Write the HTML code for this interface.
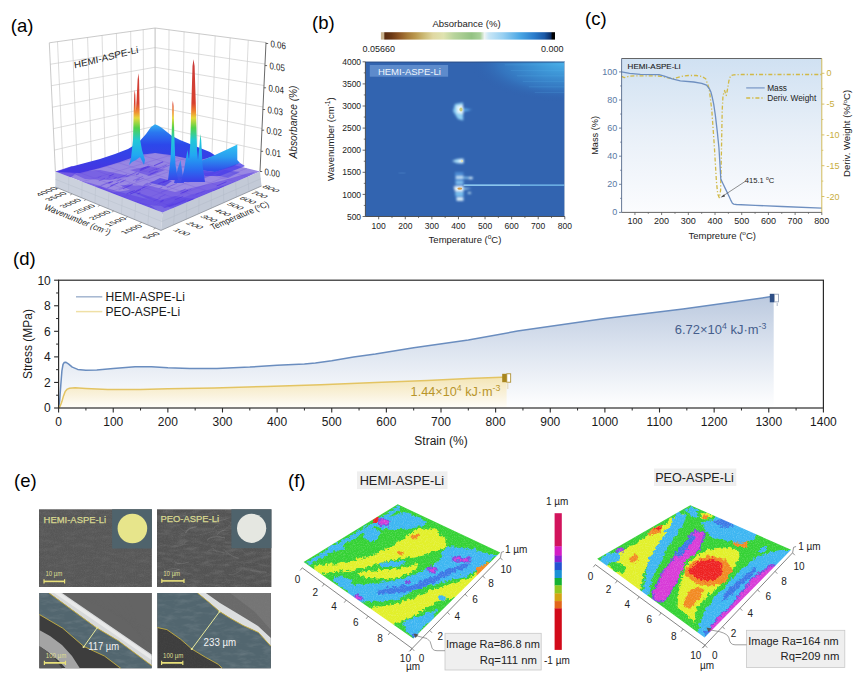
<!DOCTYPE html>
<html><head><meta charset="utf-8"><title>Figure</title>
<style>html,body{margin:0;padding:0;background:#fff;width:865px;height:693px;overflow:hidden}svg{display:block}</style>
</head><body>
<svg width="865" height="693" viewBox="0 0 865 693" font-family='"Liberation Sans", Arial, sans-serif'><defs><linearGradient id="flg" x1="0" y1="0" x2="0" y2="1"><stop offset="0" stop-color="#9484e2"/><stop offset="1" stop-color="#a08ee4"/></linearGradient><linearGradient id="hump" x1="0" y1="124" x2="0" y2="170" gradientUnits="userSpaceOnUse"><stop offset="0" stop-color="#34b4f2"/><stop offset="0.18" stop-color="#2a78f0"/><stop offset="0.45" stop-color="#2c48ea"/><stop offset="1" stop-color="#4436e2"/></linearGradient><linearGradient id="plat" x1="0" y1="144" x2="0" y2="170" gradientUnits="userSpaceOnUse"><stop offset="0" stop-color="#30c4f2"/><stop offset="0.5" stop-color="#2a9cf0"/><stop offset="1" stop-color="#3050ea"/></linearGradient><linearGradient id="jet" x1="0" y1="56" x2="0" y2="180" gradientUnits="userSpaceOnUse"><stop offset="0" stop-color="#c83c3c"/><stop offset="0.38" stop-color="#d8402e"/><stop offset="0.45" stop-color="#f08a32"/><stop offset="0.5" stop-color="#e6d83a"/><stop offset="0.58" stop-color="#52d24a"/><stop offset="0.68" stop-color="#22c8d8"/><stop offset="0.8" stop-color="#22a8f2"/><stop offset="0.92" stop-color="#2a6cf0"/><stop offset="1" stop-color="#3a44e8"/></linearGradient><linearGradient id="cbb" x1="0" x2="1" y1="0" y2="0"><stop offset="0" stop-color="#c9b38e"/><stop offset="0.02" stop-color="#c9b38e"/><stop offset="0.021" stop-color="#5a2c10"/><stop offset="0.06" stop-color="#6a3814"/><stop offset="0.1" stop-color="#8a5222"/><stop offset="0.15" stop-color="#a67a38"/><stop offset="0.2" stop-color="#bb9a50"/><stop offset="0.25" stop-color="#cdbc78"/><stop offset="0.3" stop-color="#e0d8a2"/><stop offset="0.36" stop-color="#dfe3b0"/><stop offset="0.42" stop-color="#b8d49c"/><stop offset="0.52" stop-color="#93c283"/><stop offset="0.57" stop-color="#a8d098"/><stop offset="0.595" stop-color="#eef4f4"/><stop offset="0.62" stop-color="#c8e6f6"/><stop offset="0.7" stop-color="#98d0f2"/><stop offset="0.8" stop-color="#4aa6e4"/><stop offset="0.88" stop-color="#2a7ccc"/><stop offset="0.94" stop-color="#1a58a6"/><stop offset="0.975" stop-color="#0c2e66"/><stop offset="0.986" stop-color="#000"/><stop offset="1" stop-color="#000"/></linearGradient><radialGradient id="hmtr" cx="564.8" cy="61.8" r="95" gradientUnits="userSpaceOnUse" gradientTransform="translate(564.8,61.8) scale(1,0.42) translate(-564.8,-61.8)"><stop offset="0" stop-color="#48b0e8"/><stop offset="0.35" stop-color="#3c92d4"/><stop offset="0.7" stop-color="#3474be"/><stop offset="1" stop-color="#3061ae" stop-opacity="0"/></radialGradient><filter id="bbl" x="-0.5" y="-0.5" width="2" height="2"><feGaussianBlur stdDeviation="0.9"/></filter><filter id="bbl2" x="-0.5" y="-0.5" width="2" height="2"><feGaussianBlur stdDeviation="0.5"/></filter><linearGradient id="cbg" x1="0" y1="0" x2="0" y2="1"><stop offset="0" stop-color="#d0e1f2"/><stop offset="0.5" stop-color="#e9f0f8"/><stop offset="1" stop-color="#fbfcfe"/></linearGradient><linearGradient id="hf" x1="0" y1="0" x2="0" y2="1" gradientUnits="userSpaceOnUse" gradientTransform="" ><stop offset="0" stop-color="#b7c7e0"/><stop offset="1" stop-color="#ffffff"/></linearGradient><linearGradient id="hf2" x1="0" y1="296.8" x2="0" y2="408.0" gradientUnits="userSpaceOnUse"><stop offset="0" stop-color="#bccadf"/><stop offset="0.45" stop-color="#dbe3ef"/><stop offset="1" stop-color="#ffffff"/></linearGradient><linearGradient id="hf3" x1="0" y1="362.0" x2="0" y2="408.0" gradientUnits="userSpaceOnUse"><stop offset="0" stop-color="#e2e9f4"/><stop offset="1" stop-color="#ffffff"/></linearGradient><linearGradient id="pf" x1="0" y1="378.6" x2="0" y2="408.0" gradientUnits="userSpaceOnUse"><stop offset="0" stop-color="#f4e6b8"/><stop offset="0.6" stop-color="#faf3df"/><stop offset="1" stop-color="#fffefa"/></linearGradient><filter id="semn" x="0" y="0" width="1" height="1"><feTurbulence type="fractalNoise" baseFrequency="0.9" numOctaves="2" seed="3" result="n"/><feColorMatrix type="matrix" values="0 0 0 0 0.5  0 0 0 0 0.5  0 0 0 0 0.5  0.9 0.9 0.9 0 -1.1" in="n" result="nn"/><feComposite in="nn" in2="SourceGraphic" operator="in"/></filter><filter id="semf" x="0" y="0" width="1" height="1"><feTurbulence type="fractalNoise" baseFrequency="0.08 0.25" numOctaves="3" seed="7" result="n"/><feColorMatrix type="matrix" values="0 0 0 0 0.75  0 0 0 0 0.75  0 0 0 0 0.75  0 0 -2.2 0 1.25" in="n" result="nn"/><feComposite in="nn" in2="SourceGraphic" operator="in"/></filter><filter id="afmn" x="0" y="0" width="1" height="1"><feTurbulence type="fractalNoise" baseFrequency="0.9" numOctaves="2" seed="11" result="n"/><feColorMatrix type="matrix" values="0 0 0 0 1  0 0 0 0 1  0 0 0 0 1  0 0 0 -2.2 1.25" in="n" result="nn"/><feComposite in="nn" in2="SourceGraphic" operator="in"/></filter><filter id="afmd" x="-0.05" y="-0.05" width="1.1" height="1.1"><feTurbulence type="turbulence" baseFrequency="0.18" numOctaves="2" seed="5" result="t"/><feDisplacementMap in="SourceGraphic" in2="t" scale="5" xChannelSelector="R" yChannelSelector="G"/></filter></defs><rect width="865" height="693" fill="#fff"/><text x="10.80" y="31.60" font-size="18.5" fill="#000">(a)</text>
<text x="312.00" y="29.40" font-size="18.5" fill="#000">(b)</text>
<text x="585.00" y="25.20" font-size="18.5" fill="#000">(c)</text>
<text x="13.00" y="264.60" font-size="18.5" fill="#000">(d)</text>
<text x="14.00" y="486.70" font-size="18.5" fill="#000">(e)</text>
<text x="288.00" y="486.70" font-size="18.5" fill="#000">(f)</text>
<polygon points="49.3,42.8 155.1,28.0 155.1,145.6 55.4,171.6" fill="#ffffff" />
<polygon points="155.1,28.0 266.0,42.5 260.0,171.5 155.1,145.6" fill="#ffffff" />
<line x1="57.51" y1="41.65" x2="63.14" y2="169.58" stroke="#cdcdcd" stroke-width="0.7" />
<line x1="72.39" y1="39.57" x2="77.16" y2="165.93" stroke="#cdcdcd" stroke-width="0.7" />
<line x1="87.58" y1="37.45" x2="91.47" y2="162.19" stroke="#cdcdcd" stroke-width="0.7" />
<line x1="102.05" y1="35.42" x2="105.10" y2="158.64" stroke="#cdcdcd" stroke-width="0.7" />
<line x1="116.41" y1="33.41" x2="118.64" y2="155.11" stroke="#cdcdcd" stroke-width="0.7" />
<line x1="130.68" y1="31.42" x2="132.08" y2="151.60" stroke="#cdcdcd" stroke-width="0.7" />
<line x1="143.20" y1="29.67" x2="143.88" y2="148.53" stroke="#cdcdcd" stroke-width="0.7" />
<line x1="50.32" y1="64.27" x2="155.10" y2="47.60" stroke="#cdcdcd" stroke-width="0.7" />
<line x1="51.33" y1="85.73" x2="155.10" y2="67.20" stroke="#cdcdcd" stroke-width="0.7" />
<line x1="52.35" y1="107.20" x2="155.10" y2="86.80" stroke="#cdcdcd" stroke-width="0.7" />
<line x1="53.37" y1="128.67" x2="155.10" y2="106.40" stroke="#cdcdcd" stroke-width="0.7" />
<line x1="54.38" y1="150.13" x2="155.10" y2="126.00" stroke="#cdcdcd" stroke-width="0.7" />
<line x1="169.04" y1="29.82" x2="168.28" y2="148.86" stroke="#cdcdcd" stroke-width="0.7" />
<line x1="184.08" y1="31.79" x2="182.51" y2="152.37" stroke="#cdcdcd" stroke-width="0.7" />
<line x1="199.12" y1="33.76" x2="196.74" y2="155.88" stroke="#cdcdcd" stroke-width="0.7" />
<line x1="215.16" y1="35.85" x2="211.91" y2="159.63" stroke="#cdcdcd" stroke-width="0.7" />
<line x1="230.20" y1="37.82" x2="226.14" y2="163.14" stroke="#cdcdcd" stroke-width="0.7" />
<line x1="248.25" y1="40.18" x2="243.21" y2="167.36" stroke="#cdcdcd" stroke-width="0.7" />
<line x1="155.10" y1="47.60" x2="265.00" y2="64.00" stroke="#cdcdcd" stroke-width="0.7" />
<line x1="155.10" y1="67.20" x2="264.00" y2="85.50" stroke="#cdcdcd" stroke-width="0.7" />
<line x1="155.10" y1="86.80" x2="263.00" y2="107.00" stroke="#cdcdcd" stroke-width="0.7" />
<line x1="155.10" y1="106.40" x2="262.00" y2="128.50" stroke="#cdcdcd" stroke-width="0.7" />
<line x1="155.10" y1="126.00" x2="261.00" y2="150.00" stroke="#cdcdcd" stroke-width="0.7" />
<polyline points="55.4,171.6 49.3,42.8 155.1,28.0 266.0,42.5" fill="none" stroke="#bdbdbd" stroke-width="0.8"/>
<line x1="155.10" y1="28.00" x2="155.10" y2="145.60" stroke="#b8b8b8" stroke-width="0.9" />
<line x1="266.00" y1="42.50" x2="260.00" y2="171.50" stroke="#444" stroke-width="0.8" />
<line x1="260.00" y1="171.50" x2="262.20" y2="171.50" stroke="#444" stroke-width="0.8" />
<text x="0.00" y="0.00" font-size="9.6" fill="#1a1a1a" textLength="15.4" lengthAdjust="spacingAndGlyphs" transform="translate(264.50,174.90) skewY(9)">0.00</text>
<line x1="260.94" y1="151.30" x2="263.14" y2="151.30" stroke="#444" stroke-width="0.8" />
<text x="0.00" y="0.00" font-size="9.6" fill="#1a1a1a" textLength="15.4" lengthAdjust="spacingAndGlyphs" transform="translate(265.44,154.70) skewY(9)">0.01</text>
<line x1="261.92" y1="130.20" x2="264.12" y2="130.20" stroke="#444" stroke-width="0.8" />
<text x="0.00" y="0.00" font-size="9.6" fill="#1a1a1a" textLength="15.4" lengthAdjust="spacingAndGlyphs" transform="translate(266.42,133.60) skewY(9)">0.02</text>
<line x1="262.88" y1="109.50" x2="265.08" y2="109.50" stroke="#444" stroke-width="0.8" />
<text x="0.00" y="0.00" font-size="9.6" fill="#1a1a1a" textLength="15.4" lengthAdjust="spacingAndGlyphs" transform="translate(267.38,112.90) skewY(9)">0.03</text>
<line x1="263.89" y1="87.80" x2="266.09" y2="87.80" stroke="#444" stroke-width="0.8" />
<text x="0.00" y="0.00" font-size="9.6" fill="#1a1a1a" textLength="15.4" lengthAdjust="spacingAndGlyphs" transform="translate(268.39,91.20) skewY(9)">0.04</text>
<line x1="264.93" y1="65.60" x2="267.13" y2="65.60" stroke="#444" stroke-width="0.8" />
<text x="0.00" y="0.00" font-size="9.6" fill="#1a1a1a" textLength="15.4" lengthAdjust="spacingAndGlyphs" transform="translate(269.43,69.00) skewY(9)">0.05</text>
<line x1="265.95" y1="43.50" x2="268.15" y2="43.50" stroke="#444" stroke-width="0.8" />
<text x="0.00" y="0.00" font-size="9.6" fill="#1a1a1a" textLength="15.4" lengthAdjust="spacingAndGlyphs" transform="translate(270.45,46.90) skewY(9)">0.06</text>
<text x="0.00" y="0.00" font-size="10.5" fill="#222" textLength="73" lengthAdjust="spacingAndGlyphs" text-anchor="middle" font-style="italic" transform="translate(296.5,122) rotate(-90)">Absorbance (%)</text>
<polygon points="55.4,171.6 155.1,145.6 260.0,171.5 162.5,212.6" fill="url(#flg)" />
<line x1="67.86" y1="168.35" x2="174.69" y2="207.46" stroke="#7860d8" stroke-width="0.6" opacity="0.55"/>
<line x1="80.32" y1="165.10" x2="186.88" y2="202.32" stroke="#7860d8" stroke-width="0.6" opacity="0.55"/>
<line x1="92.79" y1="161.85" x2="199.06" y2="197.19" stroke="#7860d8" stroke-width="0.6" opacity="0.55"/>
<line x1="105.25" y1="158.60" x2="211.25" y2="192.05" stroke="#7860d8" stroke-width="0.6" opacity="0.55"/>
<line x1="117.71" y1="155.35" x2="223.44" y2="186.91" stroke="#7860d8" stroke-width="0.6" opacity="0.55"/>
<line x1="130.17" y1="152.10" x2="235.62" y2="181.78" stroke="#7860d8" stroke-width="0.6" opacity="0.55"/>
<line x1="142.64" y1="148.85" x2="247.81" y2="176.64" stroke="#7860d8" stroke-width="0.6" opacity="0.55"/>
<line x1="68.79" y1="176.72" x2="168.21" y2="148.84" stroke="#7860d8" stroke-width="0.6" opacity="0.55"/>
<line x1="82.17" y1="181.85" x2="181.32" y2="152.07" stroke="#7860d8" stroke-width="0.6" opacity="0.55"/>
<line x1="95.56" y1="186.97" x2="194.44" y2="155.31" stroke="#7860d8" stroke-width="0.6" opacity="0.55"/>
<line x1="108.95" y1="192.10" x2="207.55" y2="158.55" stroke="#7860d8" stroke-width="0.6" opacity="0.55"/>
<line x1="122.34" y1="197.22" x2="220.66" y2="161.79" stroke="#7860d8" stroke-width="0.6" opacity="0.55"/>
<line x1="135.72" y1="202.35" x2="233.78" y2="165.03" stroke="#7860d8" stroke-width="0.6" opacity="0.55"/>
<line x1="149.11" y1="207.47" x2="246.89" y2="168.26" stroke="#7860d8" stroke-width="0.6" opacity="0.55"/>
<polygon points="55.4,171.6 72.0,166.0 80.0,170.0 70.0,178.0 60.0,176.0" fill="#6044e4" opacity="0.7"/>
<polygon points="80.0,190.0 100.0,186.0 130.0,200.0 150.0,205.0 160.0,212.0 140.0,208.0 110.0,200.0 85.0,195.0" fill="#6044e4" opacity="0.55"/>
<polygon points="95.0,195.0 130.0,190.0 160.0,200.0 175.0,196.0 200.0,200.0 180.0,208.0 161.3,214.5 130.0,206.0" fill="#4f40e4" opacity="0.5"/>
<polygon points="165.0,205.0 190.0,195.0 215.0,188.0 240.0,180.0 250.0,178.0 230.0,190.0 200.0,202.0 175.0,210.0" fill="#5a4be6" opacity="0.45"/>
<polygon points="150.0,183.0 160.0,178.0 172.0,181.0 165.0,186.0" fill="#4a3ce6" opacity="0.7"/>
<polygon points="100.0,160.0 120.0,154.0 128.0,158.0 110.0,165.0" fill="#4a3ce6" opacity="0.6"/>
<polygon points="215.0,175.0 225.0,170.0 240.0,172.0 228.0,178.0" fill="#4a3ce6" opacity="0.5"/>
<polygon points="60.0,178.0 90.0,183.0 120.0,192.0 150.0,200.0 161.0,206.0 140.0,204.0 110.0,196.0 80.0,188.0 58.0,183.0" fill="#5a3ee4" opacity="0.5"/>
<polygon points="70.0,172.0 100.0,170.0 130.0,176.0 110.0,180.0 85.0,179.0" fill="#5a3ee4" opacity="0.5"/>
<polygon points="120.0,185.0 150.0,186.0 175.0,192.0 200.0,186.0 225.0,180.0 245.0,174.0 255.0,172.0 240.0,182.0 210.0,194.0 180.0,204.0 165.0,208.0 150.0,200.0" fill="#5a3ee4" opacity="0.5"/>
<polygon points="175.0,178.0 200.0,174.0 225.0,170.0 200.0,180.0" fill="#5a3ee4" opacity="0.5"/>
<polygon points="130.0,170.0 150.0,166.0 165.0,170.0 150.0,176.0" fill="#5a3ee4" opacity="0.5"/>
<line x1="121.97" y1="187.10" x2="130.12" y2="183.64" stroke="#4a2ce0" stroke-width="0.5434617720005257" opacity="0.54"/>
<line x1="118.62" y1="189.99" x2="125.59" y2="187.04" stroke="#4a2ce0" stroke-width="0.5224973950651909" opacity="0.50"/>
<line x1="98.73" y1="180.90" x2="105.00" y2="178.24" stroke="#4a2ce0" stroke-width="0.9961112748032229" opacity="0.39"/>
<line x1="147.68" y1="175.54" x2="158.29" y2="171.04" stroke="#4a2ce0" stroke-width="0.8462617691704992" opacity="0.49"/>
<line x1="163.60" y1="207.72" x2="173.47" y2="203.54" stroke="#4a2ce0" stroke-width="0.6737655717990058" opacity="0.40"/>
<line x1="117.52" y1="178.32" x2="127.04" y2="174.28" stroke="#4a2ce0" stroke-width="0.6084358279543625" opacity="0.55"/>
<line x1="161.05" y1="192.11" x2="168.34" y2="189.02" stroke="#4a2ce0" stroke-width="0.5376733849839939" opacity="0.37"/>
<line x1="150.09" y1="174.08" x2="156.39" y2="171.41" stroke="#4a2ce0" stroke-width="0.6884883022260749" opacity="0.55"/>
<line x1="142.06" y1="188.10" x2="151.39" y2="184.14" stroke="#4a2ce0" stroke-width="0.9193966602377428" opacity="0.44"/>
<line x1="166.88" y1="187.48" x2="176.88" y2="183.24" stroke="#4a2ce0" stroke-width="0.9376671736635307" opacity="0.45"/>
<line x1="168.88" y1="206.53" x2="175.11" y2="203.89" stroke="#4a2ce0" stroke-width="0.9542845577391497" opacity="0.40"/>
<line x1="126.55" y1="193.87" x2="134.85" y2="190.35" stroke="#4a2ce0" stroke-width="0.958742519727688" opacity="0.55"/>
<line x1="174.69" y1="199.97" x2="183.21" y2="196.36" stroke="#4a2ce0" stroke-width="0.856621926263011" opacity="0.55"/>
<line x1="179.98" y1="178.36" x2="190.57" y2="173.87" stroke="#4a2ce0" stroke-width="0.7844590024517868" opacity="0.58"/>
<line x1="140.67" y1="169.52" x2="148.78" y2="166.08" stroke="#4a2ce0" stroke-width="1.0958575636799806" opacity="0.64"/>
<line x1="135.42" y1="181.70" x2="143.72" y2="178.18" stroke="#4a2ce0" stroke-width="0.5135377568333531" opacity="0.51"/>
<line x1="107.93" y1="183.24" x2="111.18" y2="181.86" stroke="#4a2ce0" stroke-width="0.9609397930835125" opacity="0.40"/>
<line x1="133.01" y1="180.54" x2="142.98" y2="176.31" stroke="#4a2ce0" stroke-width="0.5483487807200832" opacity="0.51"/>
<line x1="190.00" y1="180.24" x2="199.55" y2="176.20" stroke="#4a2ce0" stroke-width="1.0183906818191093" opacity="0.45"/>
<line x1="143.33" y1="185.94" x2="153.41" y2="181.67" stroke="#4a2ce0" stroke-width="1.0746387223783949" opacity="0.40"/>
<line x1="116.56" y1="181.39" x2="121.25" y2="179.40" stroke="#4a2ce0" stroke-width="0.790977638204814" opacity="0.56"/>
<line x1="107.14" y1="188.02" x2="113.37" y2="185.38" stroke="#4a2ce0" stroke-width="0.7215521437368353" opacity="0.55"/>
<line x1="206.80" y1="195.34" x2="213.83" y2="192.36" stroke="#4a2ce0" stroke-width="0.8705556496454767" opacity="0.59"/>
<line x1="153.99" y1="165.73" x2="163.20" y2="161.82" stroke="#4a2ce0" stroke-width="1.024707910480686" opacity="0.63"/>
<line x1="144.42" y1="184.55" x2="148.04" y2="183.02" stroke="#4a2ce0" stroke-width="0.8805737394114255" opacity="0.37"/>
<line x1="106.78" y1="178.68" x2="110.88" y2="176.94" stroke="#4a2ce0" stroke-width="0.7040321913394061" opacity="0.37"/>
<line x1="97.73" y1="177.80" x2="101.33" y2="176.28" stroke="#4a2ce0" stroke-width="0.7181659532207426" opacity="0.36"/>
<line x1="195.56" y1="194.47" x2="199.55" y2="192.78" stroke="#4a2ce0" stroke-width="0.6513546539342464" opacity="0.47"/>
<line x1="123.03" y1="188.77" x2="132.82" y2="184.62" stroke="#4a2ce0" stroke-width="1.0958616330228286" opacity="0.51"/>
<line x1="129.43" y1="192.87" x2="133.03" y2="191.34" stroke="#4a2ce0" stroke-width="0.7055815029458011" opacity="0.44"/>
<line x1="160.57" y1="201.40" x2="163.52" y2="200.15" stroke="#4a2ce0" stroke-width="1.0705913437248213" opacity="0.53"/>
<line x1="136.06" y1="174.87" x2="139.04" y2="173.61" stroke="#4a2ce0" stroke-width="0.8168656645629839" opacity="0.69"/>
<line x1="200.47" y1="192.66" x2="205.39" y2="190.57" stroke="#4a2ce0" stroke-width="0.7200198750567073" opacity="0.41"/>
<line x1="182.20" y1="193.01" x2="191.41" y2="189.11" stroke="#4a2ce0" stroke-width="0.6977989970286574" opacity="0.43"/>
<line x1="216.74" y1="185.91" x2="226.56" y2="181.75" stroke="#4a2ce0" stroke-width="0.9836471508714006" opacity="0.64"/>
<line x1="158.45" y1="197.66" x2="165.50" y2="194.67" stroke="#4a2ce0" stroke-width="0.713337526012975" opacity="0.36"/>
<line x1="108.76" y1="176.27" x2="113.66" y2="174.19" stroke="#4a2ce0" stroke-width="0.9155131650200741" opacity="0.68"/>
<line x1="186.08" y1="176.33" x2="197.02" y2="171.69" stroke="#4a2ce0" stroke-width="1.0730003787928" opacity="0.48"/>
<line x1="119.52" y1="182.75" x2="123.91" y2="180.89" stroke="#4a2ce0" stroke-width="0.6226240179657339" opacity="0.57"/>
<line x1="213.31" y1="191.09" x2="220.04" y2="188.24" stroke="#4a2ce0" stroke-width="0.8917868257046055" opacity="0.63"/>
<line x1="139.62" y1="170.96" x2="149.91" y2="166.60" stroke="#4a2ce0" stroke-width="0.9693817304588541" opacity="0.61"/>
<line x1="135.46" y1="191.02" x2="144.75" y2="187.08" stroke="#4a2ce0" stroke-width="0.699510319918766" opacity="0.63"/>
<line x1="187.63" y1="201.23" x2="193.71" y2="198.65" stroke="#4a2ce0" stroke-width="1.0680782038789358" opacity="0.60"/>
<line x1="108.77" y1="183.12" x2="112.78" y2="181.42" stroke="#4a2ce0" stroke-width="1.0429112574399437" opacity="0.63"/>
<line x1="155.80" y1="169.70" x2="166.68" y2="165.09" stroke="#4a2ce0" stroke-width="0.894360975641612" opacity="0.47"/>
<line x1="137.43" y1="193.91" x2="140.31" y2="192.69" stroke="#4a2ce0" stroke-width="1.0825341063426586" opacity="0.58"/>
<line x1="191.80" y1="178.67" x2="198.15" y2="175.98" stroke="#4a2ce0" stroke-width="1.0230457567936426" opacity="0.64"/>
<line x1="120.56" y1="182.02" x2="125.74" y2="179.83" stroke="#4a2ce0" stroke-width="0.6443236355350008" opacity="0.56"/>
<line x1="135.85" y1="180.37" x2="139.69" y2="178.74" stroke="#4a2ce0" stroke-width="1.046010233789334" opacity="0.47"/>
<line x1="162.22" y1="183.08" x2="172.47" y2="178.74" stroke="#4a2ce0" stroke-width="0.752376962425439" opacity="0.67"/>
<line x1="161.88" y1="185.27" x2="168.98" y2="182.26" stroke="#4a2ce0" stroke-width="0.511222920743252" opacity="0.50"/>
<line x1="101.16" y1="185.73" x2="110.54" y2="181.76" stroke="#4a2ce0" stroke-width="0.6034080273280693" opacity="0.52"/>
<line x1="180.36" y1="191.24" x2="185.82" y2="188.92" stroke="#4a2ce0" stroke-width="0.8110092276218221" opacity="0.54"/>
<line x1="153.36" y1="201.13" x2="160.76" y2="197.99" stroke="#4a2ce0" stroke-width="0.6490965926258541" opacity="0.45"/>
<line x1="180.49" y1="193.47" x2="187.90" y2="190.33" stroke="#4a2ce0" stroke-width="0.95599588555401" opacity="0.67"/>
<line x1="163.14" y1="182.12" x2="170.08" y2="179.18" stroke="#4a2ce0" stroke-width="0.8072968834611917" opacity="0.59"/>
<line x1="158.29" y1="183.83" x2="165.01" y2="180.98" stroke="#4a2ce0" stroke-width="1.0649006765231004" opacity="0.59"/>
<line x1="218.63" y1="188.56" x2="223.54" y2="186.48" stroke="#4a2ce0" stroke-width="0.835708283898629" opacity="0.68"/>
<line x1="159.71" y1="202.16" x2="163.47" y2="200.57" stroke="#4a2ce0" stroke-width="0.7652708529650263" opacity="0.38"/>
<line x1="110.30" y1="186.13" x2="118.61" y2="182.61" stroke="#4a2ce0" stroke-width="0.9703616103038932" opacity="0.66"/>
<line x1="148.72" y1="171.95" x2="156.94" y2="168.46" stroke="#4a2ce0" stroke-width="0.5857873987545423" opacity="0.66"/>
<line x1="175.02" y1="204.32" x2="185.67" y2="199.81" stroke="#4a2ce0" stroke-width="0.7389541248303632" opacity="0.52"/>
<line x1="219.47" y1="193.81" x2="223.56" y2="192.07" stroke="#4a2ce0" stroke-width="0.7589130907985834" opacity="0.53"/>
<line x1="126.24" y1="186.72" x2="131.64" y2="184.43" stroke="#4a2ce0" stroke-width="0.9332905010847115" opacity="0.36"/>
<line x1="159.44" y1="188.43" x2="162.35" y2="187.20" stroke="#4a2ce0" stroke-width="0.6988987334851944" opacity="0.57"/>
<line x1="130.05" y1="194.08" x2="140.97" y2="189.45" stroke="#4a2ce0" stroke-width="0.9730178336585485" opacity="0.69"/>
<line x1="113.55" y1="178.72" x2="116.64" y2="177.41" stroke="#4a2ce0" stroke-width="0.9673984580407354" opacity="0.44"/>
<line x1="126.34" y1="176.58" x2="136.65" y2="172.21" stroke="#4a2ce0" stroke-width="0.9913873878687691" opacity="0.44"/>
<line x1="162.51" y1="168.11" x2="169.99" y2="164.94" stroke="#4a2ce0" stroke-width="0.9202504679279708" opacity="0.38"/>
<line x1="139.50" y1="169.68" x2="145.78" y2="167.01" stroke="#4a2ce0" stroke-width="0.5434484568339143" opacity="0.68"/>
<polygon points="56.0,172.0 70.0,167.0 85.0,163.0 100.0,159.0 115.0,154.0 128.0,149.0 138.0,143.0 146.0,134.0 151.0,127.0 155.0,124.3 158.0,125.5 162.0,128.0 167.0,132.0 172.0,136.0 180.0,140.0 190.0,144.0 200.0,148.0 210.0,152.0 216.0,156.0 200.0,160.0 185.0,158.0 170.0,155.0 155.0,153.0 140.0,155.0 120.0,162.0 100.0,168.0 80.0,173.0" fill="url(#hump)" />
<polygon points="195.0,163.0 201.5,160.8 215.0,155.0 228.0,149.0 237.3,144.6 237.3,160.0 240.0,163.0 232.0,167.0 215.0,172.0 200.0,170.0" fill="url(#plat)" />
<polygon points="200.0,170.0 215.0,172.0 240.0,163.0 245.0,166.0 220.0,176.0 205.0,176.0" fill="#4b3ee8" opacity="0.8"/>
<polygon points="129.0,165.0 131.0,158.0 133.0,140.0 133.6,115.0 134.2,95.0 134.7,89.7 135.3,95.0 135.8,112.0 136.6,100.0 137.6,80.0 138.4,73.2 139.1,80.0 139.6,110.0 140.2,140.0 142.0,150.0 145.0,160.0 144.0,165.0 140.0,157.0 136.0,160.0 132.0,162.0" fill="url(#jet)" />
<polygon points="168.0,180.0 170.5,160.0 171.8,130.0 172.4,104.0 172.9,100.8 173.6,106.0 174.3,135.0 175.5,165.0 178.0,180.0" fill="url(#jet)" />
<polygon points="181.0,182.0 184.0,170.0 186.0,158.0 187.5,150.0 189.0,160.0 190.2,145.0 191.2,110.0 192.5,66.0 193.5,59.2 194.6,66.0 196.0,110.0 197.0,150.0 198.0,160.0 199.5,145.0 200.3,134.0 201.2,140.0 202.5,165.0 205.0,182.0" fill="url(#jet)" />
<polygon points="174.0,183.0 178.0,168.0 180.5,160.0 182.0,170.0 184.0,183.0" fill="url(#jet)" opacity="0.9"/>
<polygon points="55.4,171.6 162.5,212.6 161.0,230.4 55.4,187.0" fill="#cbd1dd" />
<polygon points="162.5,212.6 260.0,171.5 261.5,186.0 161.0,230.4" fill="#c3cad7" />
<line x1="68.79" y1="176.72" x2="68.60" y2="192.43" stroke="#b9c0cd" stroke-width="0.5" />
<line x1="174.69" y1="207.46" x2="173.56" y2="224.85" stroke="#b3bac8" stroke-width="0.5" />
<line x1="82.17" y1="181.85" x2="81.80" y2="197.85" stroke="#b9c0cd" stroke-width="0.5" />
<line x1="186.88" y1="202.32" x2="186.12" y2="219.30" stroke="#b3bac8" stroke-width="0.5" />
<line x1="95.56" y1="186.97" x2="95.00" y2="203.28" stroke="#b9c0cd" stroke-width="0.5" />
<line x1="199.06" y1="197.19" x2="198.69" y2="213.75" stroke="#b3bac8" stroke-width="0.5" />
<line x1="108.95" y1="192.10" x2="108.20" y2="208.70" stroke="#b9c0cd" stroke-width="0.5" />
<line x1="211.25" y1="192.05" x2="211.25" y2="208.20" stroke="#b3bac8" stroke-width="0.5" />
<line x1="122.34" y1="197.22" x2="121.40" y2="214.12" stroke="#b9c0cd" stroke-width="0.5" />
<line x1="223.44" y1="186.91" x2="223.81" y2="202.65" stroke="#b3bac8" stroke-width="0.5" />
<line x1="135.72" y1="202.35" x2="134.60" y2="219.55" stroke="#b9c0cd" stroke-width="0.5" />
<line x1="235.62" y1="181.78" x2="236.38" y2="197.10" stroke="#b3bac8" stroke-width="0.5" />
<line x1="149.11" y1="207.47" x2="147.80" y2="224.98" stroke="#b9c0cd" stroke-width="0.5" />
<line x1="247.81" y1="176.64" x2="248.94" y2="191.55" stroke="#b3bac8" stroke-width="0.5" />
<line x1="55.40" y1="179.30" x2="161.75" y2="221.50" stroke="#b9c0cd" stroke-width="0.5" />
<line x1="161.75" y1="221.50" x2="260.75" y2="178.75" stroke="#b3bac8" stroke-width="0.5" />
<polyline points="55.4,187.0 161.0,230.4 261.5,186.0" fill="none" stroke="#8a8f98" stroke-width="0.8"/>
<line x1="58.18" y1="188.14" x2="56.18" y2="189.34" stroke="#666" stroke-width="0.6" />
<line x1="72.07" y1="193.85" x2="70.07" y2="195.05" stroke="#666" stroke-width="0.6" />
<line x1="85.97" y1="199.56" x2="83.97" y2="200.76" stroke="#666" stroke-width="0.6" />
<line x1="99.86" y1="205.27" x2="97.86" y2="206.47" stroke="#666" stroke-width="0.6" />
<line x1="113.76" y1="210.98" x2="111.76" y2="212.18" stroke="#666" stroke-width="0.6" />
<line x1="127.65" y1="216.69" x2="125.65" y2="217.89" stroke="#666" stroke-width="0.6" />
<line x1="141.55" y1="222.41" x2="139.55" y2="223.61" stroke="#666" stroke-width="0.6" />
<line x1="155.44" y1="228.12" x2="153.44" y2="229.32" stroke="#666" stroke-width="0.6" />
<text x="0.00" y="3.20" font-size="9.2" fill="#222" text-anchor="middle" transform="matrix(0.920,-0.390,0.788,0.319,46.50,191.50)">4000</text>
<text x="0.00" y="3.20" font-size="9.2" fill="#222" text-anchor="middle" transform="matrix(0.920,-0.390,0.788,0.319,55.80,196.50)">3500</text>
<text x="0.00" y="3.20" font-size="9.2" fill="#222" text-anchor="middle" transform="matrix(0.920,-0.390,0.788,0.319,70.40,203.30)">3000</text>
<text x="0.00" y="3.20" font-size="9.2" fill="#222" text-anchor="middle" transform="matrix(0.920,-0.390,0.788,0.319,84.40,208.90)">2500</text>
<text x="0.00" y="3.20" font-size="9.2" fill="#222" text-anchor="middle" transform="matrix(0.920,-0.390,0.788,0.319,99.70,215.30)">2000</text>
<text x="0.00" y="3.20" font-size="9.2" fill="#222" text-anchor="middle" transform="matrix(0.920,-0.390,0.788,0.319,115.50,221.70)">1500</text>
<text x="0.00" y="3.20" font-size="9.2" fill="#222" text-anchor="middle" transform="matrix(0.920,-0.390,0.788,0.319,131.30,229.20)">1000</text>
<text x="0.00" y="3.20" font-size="9.2" fill="#222" text-anchor="middle" transform="matrix(0.920,-0.390,0.788,0.319,151.30,235.60)">500</text>
<text x="0.00" y="3.20" font-size="9.8" fill="#222" text-anchor="middle" transform="matrix(0.927,0.375,-0.495,0.747,77.60,219.80)" textLength="70" lengthAdjust="spacingAndGlyphs">Wavenumber (cm<tspan font-size="6" dy="-3">-1</tspan><tspan dy="3">)</tspan></text>
<text x="0.00" y="3.20" font-size="9.2" fill="#222" text-anchor="middle" transform="matrix(0.927,0.375,-0.782,0.332,181.80,232.10)">100</text>
<text x="0.00" y="3.20" font-size="9.2" fill="#222" text-anchor="middle" transform="matrix(0.927,0.375,-0.782,0.332,194.90,225.30)">200</text>
<text x="0.00" y="3.20" font-size="9.2" fill="#222" text-anchor="middle" transform="matrix(0.927,0.375,-0.782,0.332,209.20,218.50)">300</text>
<text x="0.00" y="3.20" font-size="9.2" fill="#222" text-anchor="middle" transform="matrix(0.927,0.375,-0.782,0.332,222.60,212.60)">400</text>
<text x="0.00" y="3.20" font-size="9.2" fill="#222" text-anchor="middle" transform="matrix(0.927,0.375,-0.782,0.332,235.50,206.00)">500</text>
<text x="0.00" y="3.20" font-size="9.2" fill="#222" text-anchor="middle" transform="matrix(0.927,0.375,-0.782,0.332,248.00,200.20)">600</text>
<text x="0.00" y="3.20" font-size="9.2" fill="#222" text-anchor="middle" transform="matrix(0.927,0.375,-0.782,0.332,259.50,194.50)">700</text>
<text x="0.00" y="3.20" font-size="9.2" fill="#222" text-anchor="middle" transform="matrix(0.927,0.375,-0.782,0.332,271.10,188.70)">800</text>
<text x="0.00" y="3.20" font-size="9.8" fill="#222" text-anchor="middle" transform="matrix(0.920,-0.390,0.495,0.747,239.70,215.60)" textLength="62" lengthAdjust="spacingAndGlyphs">Temperature (<tspan font-size="6" dy="-3">o</tspan><tspan dy="3">C)</tspan></text>
<text x="0.00" y="0.00" font-size="9.2" fill="#1a1a1a" textLength="66" lengthAdjust="spacingAndGlyphs" transform="translate(74.5,68.6) rotate(-14) skewX(-6)">HEMI-ASPE-Li</text>
<rect x="380.90" y="32.20" width="174.10" height="7.40" fill="url(#cbb)" />
<text x="466.50" y="27.30" font-size="9.5" fill="#222" text-anchor="middle">Absorbance (%)</text>
<text x="362.50" y="52.30" font-size="9" fill="#222">0.05660</text>
<text x="563.50" y="52.30" font-size="9" fill="#222" text-anchor="end">0.000</text>
<rect x="365.40" y="61.80" width="199.40" height="154.70" fill="#3264b0" />
<rect x="464.80" y="61.80" width="100.00" height="42.00" fill="url(#hmtr)" />
<line x1="504.80" y1="64.80" x2="564.80" y2="64.80" stroke="#5ab4ea" stroke-width="0.6" opacity="0.35"/>
<line x1="510.80" y1="70.30" x2="564.80" y2="70.30" stroke="#5ab4ea" stroke-width="0.6" opacity="0.35"/>
<line x1="516.80" y1="75.80" x2="564.80" y2="75.80" stroke="#5ab4ea" stroke-width="0.6" opacity="0.35"/>
<line x1="522.80" y1="81.30" x2="564.80" y2="81.30" stroke="#5ab4ea" stroke-width="0.6" opacity="0.35"/>
<line x1="528.80" y1="86.80" x2="564.80" y2="86.80" stroke="#5ab4ea" stroke-width="0.6" opacity="0.35"/>
<line x1="534.80" y1="92.30" x2="564.80" y2="92.30" stroke="#5ab4ea" stroke-width="0.6" opacity="0.35"/>
<rect x="369.80" y="65.00" width="78.30" height="11.70" fill="#5d8bcc" />
<text x="409.40" y="74.50" font-size="9.2" fill="#eef4fb" textLength="63" lengthAdjust="spacingAndGlyphs" text-anchor="middle">HEMI-ASPE-Li</text>
<line x1="463.50" y1="185.20" x2="564.80" y2="185.20" stroke="#7cc4f2" stroke-width="1.3" />
<line x1="463.50" y1="185.20" x2="520.00" y2="185.20" stroke="#a8daf6" stroke-width="0.8" />
<g filter="url(#bbl)">
<polygon points="455.0,104.0 463.0,102.5 463.2,120.4 458.0,119.0 453.0,111.0" fill="#8fd0f4" />
<polygon points="456.5,106.0 463.0,105.0 463.2,114.0 457.0,113.0" fill="#e4f4fb" />
<polygon points="463.0,108.0 472.0,109.8 463.0,112.0" fill="#5aa6e4" />
<polygon points="452.0,161.0 457.0,159.0 463.4,158.6 463.4,163.5 457.0,163.2" fill="#a8dcf6" />
<polygon points="459.0,159.5 463.4,159.2 463.4,162.8 459.0,162.5" fill="#e8f6fb" />
<polygon points="455.0,172.2 463.4,172.2 463.4,200.8 456.0,200.8" fill="#4f8fd6" />
<polygon points="455.9,176.4 463.4,176.2 463.4,178.6 456.0,178.4" fill="#d8f0fa" />
<polygon points="463.4,176.8 472.5,177.2 472.5,178.8 463.4,178.6" fill="#8ccaf2" />
<ellipse cx="470.8" cy="178" rx="2" ry="1.3" fill="#d8f0fa"/>
<polygon points="455.9,181.5 463.4,181.5 463.4,183.5 455.9,183.5" fill="#90cdf2" />
<polygon points="453.5,186.5 463.4,186.2 463.4,191.5 455.0,191.2" fill="#eaf6fb" />
<polygon points="463.4,187.8 471.7,188.4 463.4,189.8" fill="#a8daf4" />
<ellipse cx="469.4" cy="192.9" rx="1.8" ry="0.9" fill="#c8eaf8"/>
<polygon points="455.0,192.0 463.4,192.0 463.4,196.0 455.5,196.0" fill="#78bcec" />
<polygon points="456.7,197.6 463.4,197.6 463.4,200.8 457.0,200.8" fill="#e0f2fa" />
</g>
<g filter="url(#bbl2)">
<ellipse cx="461" cy="109.5" rx="1.6" ry="2" fill="#c8cc80"/>
<ellipse cx="462" cy="161.1" rx="1" ry="1" fill="#e8e0a8"/>
<ellipse cx="459.8" cy="188.6" rx="2.4" ry="1.2" fill="#d09a48"/>
</g>
<ellipse cx="402" cy="173" rx="4" ry="0.8" fill="#4a80c4" opacity="0.5"/>
<line x1="365.40" y1="62.10" x2="564.80" y2="62.10" stroke="#28487e" stroke-width="0.8" />
<line x1="564.50" y1="61.80" x2="564.50" y2="216.50" stroke="#b8c4d4" stroke-width="0.8" />
<line x1="365.40" y1="216.50" x2="564.80" y2="216.50" stroke="#444" stroke-width="0.9" />
<line x1="365.40" y1="61.80" x2="365.40" y2="216.50" stroke="#444" stroke-width="0.9" />
<line x1="378.69" y1="216.50" x2="378.69" y2="219.30" stroke="#444" stroke-width="0.8" />
<text x="378.69" y="228.50" font-size="8.5" fill="#222" text-anchor="middle">100</text>
<line x1="405.28" y1="216.50" x2="405.28" y2="219.30" stroke="#444" stroke-width="0.8" />
<text x="405.28" y="228.50" font-size="8.5" fill="#222" text-anchor="middle">200</text>
<line x1="431.87" y1="216.50" x2="431.87" y2="219.30" stroke="#444" stroke-width="0.8" />
<text x="431.87" y="228.50" font-size="8.5" fill="#222" text-anchor="middle">300</text>
<line x1="458.45" y1="216.50" x2="458.45" y2="219.30" stroke="#444" stroke-width="0.8" />
<text x="458.45" y="228.50" font-size="8.5" fill="#222" text-anchor="middle">400</text>
<line x1="485.04" y1="216.50" x2="485.04" y2="219.30" stroke="#444" stroke-width="0.8" />
<text x="485.04" y="228.50" font-size="8.5" fill="#222" text-anchor="middle">500</text>
<line x1="511.63" y1="216.50" x2="511.63" y2="219.30" stroke="#444" stroke-width="0.8" />
<text x="511.63" y="228.50" font-size="8.5" fill="#222" text-anchor="middle">600</text>
<line x1="538.21" y1="216.50" x2="538.21" y2="219.30" stroke="#444" stroke-width="0.8" />
<text x="538.21" y="228.50" font-size="8.5" fill="#222" text-anchor="middle">700</text>
<line x1="564.80" y1="216.50" x2="564.80" y2="219.30" stroke="#444" stroke-width="0.8" />
<text x="564.80" y="228.50" font-size="8.5" fill="#222" text-anchor="middle">800</text>
<line x1="391.99" y1="216.50" x2="391.99" y2="218.10" stroke="#444" stroke-width="0.7" />
<line x1="418.57" y1="216.50" x2="418.57" y2="218.10" stroke="#444" stroke-width="0.7" />
<line x1="445.16" y1="216.50" x2="445.16" y2="218.10" stroke="#444" stroke-width="0.7" />
<line x1="471.75" y1="216.50" x2="471.75" y2="218.10" stroke="#444" stroke-width="0.7" />
<line x1="498.33" y1="216.50" x2="498.33" y2="218.10" stroke="#444" stroke-width="0.7" />
<line x1="524.92" y1="216.50" x2="524.92" y2="218.10" stroke="#444" stroke-width="0.7" />
<line x1="551.51" y1="216.50" x2="551.51" y2="218.10" stroke="#444" stroke-width="0.7" />
<line x1="362.60" y1="216.50" x2="365.40" y2="216.50" stroke="#444" stroke-width="0.8" />
<text x="361.10" y="219.60" font-size="8.5" fill="#222" text-anchor="end">500</text>
<line x1="362.60" y1="194.40" x2="365.40" y2="194.40" stroke="#444" stroke-width="0.8" />
<text x="361.10" y="197.50" font-size="8.5" fill="#222" text-anchor="end">1000</text>
<line x1="362.60" y1="172.30" x2="365.40" y2="172.30" stroke="#444" stroke-width="0.8" />
<text x="361.10" y="175.40" font-size="8.5" fill="#222" text-anchor="end">1500</text>
<line x1="362.60" y1="150.20" x2="365.40" y2="150.20" stroke="#444" stroke-width="0.8" />
<text x="361.10" y="153.30" font-size="8.5" fill="#222" text-anchor="end">2000</text>
<line x1="362.60" y1="128.10" x2="365.40" y2="128.10" stroke="#444" stroke-width="0.8" />
<text x="361.10" y="131.20" font-size="8.5" fill="#222" text-anchor="end">2500</text>
<line x1="362.60" y1="106.00" x2="365.40" y2="106.00" stroke="#444" stroke-width="0.8" />
<text x="361.10" y="109.10" font-size="8.5" fill="#222" text-anchor="end">3000</text>
<line x1="362.60" y1="83.90" x2="365.40" y2="83.90" stroke="#444" stroke-width="0.8" />
<text x="361.10" y="87.00" font-size="8.5" fill="#222" text-anchor="end">3500</text>
<line x1="362.60" y1="61.80" x2="365.40" y2="61.80" stroke="#444" stroke-width="0.8" />
<text x="361.10" y="64.90" font-size="8.5" fill="#222" text-anchor="end">4000</text>
<line x1="363.80" y1="205.45" x2="365.40" y2="205.45" stroke="#444" stroke-width="0.7" />
<line x1="363.80" y1="183.35" x2="365.40" y2="183.35" stroke="#444" stroke-width="0.7" />
<line x1="363.80" y1="161.25" x2="365.40" y2="161.25" stroke="#444" stroke-width="0.7" />
<line x1="363.80" y1="139.15" x2="365.40" y2="139.15" stroke="#444" stroke-width="0.7" />
<line x1="363.80" y1="117.05" x2="365.40" y2="117.05" stroke="#444" stroke-width="0.7" />
<line x1="363.80" y1="94.95" x2="365.40" y2="94.95" stroke="#444" stroke-width="0.7" />
<line x1="363.80" y1="72.85" x2="365.40" y2="72.85" stroke="#444" stroke-width="0.7" />
<text x="465.00" y="242.60" font-size="9.5" fill="#222" text-anchor="middle">Temperature (<tspan font-size="6.5" dy="-3.2">o</tspan><tspan dy="3.2">C)</tspan></text>
<text x="0.00" y="0.00" font-size="9.5" fill="#222" text-anchor="middle" transform="translate(333.5,139.2) rotate(-90)">Wavenumber (cm<tspan font-size="6.5" dy="-3.2">-1</tspan><tspan dy="3.2">)</tspan></text>
<rect x="621.60" y="58.50" width="200.20" height="153.90" fill="url(#cbg)" />
<text x="627.60" y="68.60" font-size="7.3" fill="#1a1a1a" textLength="53" lengthAdjust="spacingAndGlyphs" stroke="#1a1a1a" stroke-width="0.1">HEMI-ASPE-Li</text>
<polyline points="621.6,76.4 624.3,77.6 629.6,76.1 640.3,75.8 656.3,75.8 661.6,76.4 667.0,77.6 672.3,78.8 676.3,77.9 683.0,76.1 688.3,75.5 696.3,75.5 701.7,76.4 705.7,78.8 709.2,88.7 711.8,110.3 714.2,144.1 716.4,181.1 717.7,194.0 719.3,197.7 720.6,190.3 721.4,153.4 722.2,110.3 723.0,95.5 724.6,90.5 726.2,95.5 727.3,90.5 728.9,80.7 730.5,75.8 733.7,74.8 741.7,74.5 821.8,74.5" fill="none" stroke="#d1b946" stroke-width="1.3" stroke-dasharray="4,2,1.2,2" stroke-linejoin="round"/>
<polyline points="621.6,71.9 629.6,73.3 640.3,74.3 659.0,74.6 664.3,76.1 672.3,78.9 680.3,80.9 693.7,82.0 701.7,83.3 706.5,85.2 709.4,88.8 711.0,92.3 712.1,96.6 713.7,104.2 715.3,114.9 717.2,130.9 718.9,147.3 719.8,161.8 720.8,179.0 723.0,183.7 725.7,189.4 728.4,195.0 730.5,199.6 732.4,203.3 733.7,204.1 736.4,204.5 755.1,205.4 781.8,206.5 821.8,208.2" fill="none" stroke="#6e8fc0" stroke-width="1.3" stroke-linejoin="round"/>
<line x1="745.50" y1="181.20" x2="722.50" y2="196.30" stroke="#444" stroke-width="0.6" />
<polygon points="720.5,197.6 724.2,194.3 725.0,196.4" fill="#444" />
<text x="744.80" y="182.60" font-size="7.6" fill="#222">415.1 <tspan font-size="5.2" dy="-2.6">o</tspan><tspan dy="2.6">C</tspan></text>
<line x1="746.20" y1="87.90" x2="764.70" y2="87.90" stroke="#7f9cc8" stroke-width="1.3" />
<line x1="746.20" y1="98.00" x2="764.70" y2="98.00" stroke="#d1b946" stroke-width="1.3" stroke-dasharray="4,2,1.2,2"/>
<text x="767.20" y="91.00" font-size="8.3" fill="#222">Mass</text>
<text x="767.20" y="101.20" font-size="8.3" fill="#222">Deriv. Weight</text>
<line x1="621.60" y1="58.50" x2="821.80" y2="58.50" stroke="#555" stroke-width="0.9" />
<line x1="621.60" y1="212.40" x2="821.80" y2="212.40" stroke="#555" stroke-width="0.9" />
<line x1="621.60" y1="58.50" x2="621.60" y2="212.40" stroke="#55698a" stroke-width="0.9" />
<line x1="821.80" y1="58.50" x2="821.80" y2="212.40" stroke="#cfb448" stroke-width="0.9" />
<line x1="634.95" y1="212.40" x2="634.95" y2="215.00" stroke="#555" stroke-width="0.8" />
<text x="634.95" y="223.60" font-size="9" fill="#222" text-anchor="middle">100</text>
<line x1="661.64" y1="212.40" x2="661.64" y2="215.00" stroke="#555" stroke-width="0.8" />
<text x="661.64" y="223.60" font-size="9" fill="#222" text-anchor="middle">200</text>
<line x1="688.33" y1="212.40" x2="688.33" y2="215.00" stroke="#555" stroke-width="0.8" />
<text x="688.33" y="223.60" font-size="9" fill="#222" text-anchor="middle">300</text>
<line x1="715.03" y1="212.40" x2="715.03" y2="215.00" stroke="#555" stroke-width="0.8" />
<text x="715.03" y="223.60" font-size="9" fill="#222" text-anchor="middle">400</text>
<line x1="741.72" y1="212.40" x2="741.72" y2="215.00" stroke="#555" stroke-width="0.8" />
<text x="741.72" y="223.60" font-size="9" fill="#222" text-anchor="middle">500</text>
<line x1="768.41" y1="212.40" x2="768.41" y2="215.00" stroke="#555" stroke-width="0.8" />
<text x="768.41" y="223.60" font-size="9" fill="#222" text-anchor="middle">600</text>
<line x1="795.11" y1="212.40" x2="795.11" y2="215.00" stroke="#555" stroke-width="0.8" />
<text x="795.11" y="223.60" font-size="9" fill="#222" text-anchor="middle">700</text>
<line x1="821.80" y1="212.40" x2="821.80" y2="215.00" stroke="#555" stroke-width="0.8" />
<text x="821.80" y="223.60" font-size="9" fill="#222" text-anchor="middle">800</text>
<line x1="648.29" y1="212.40" x2="648.29" y2="213.90" stroke="#555" stroke-width="0.7" />
<line x1="674.99" y1="212.40" x2="674.99" y2="213.90" stroke="#555" stroke-width="0.7" />
<line x1="701.68" y1="212.40" x2="701.68" y2="213.90" stroke="#555" stroke-width="0.7" />
<line x1="728.37" y1="212.40" x2="728.37" y2="213.90" stroke="#555" stroke-width="0.7" />
<line x1="755.07" y1="212.40" x2="755.07" y2="213.90" stroke="#555" stroke-width="0.7" />
<line x1="781.76" y1="212.40" x2="781.76" y2="213.90" stroke="#555" stroke-width="0.7" />
<line x1="808.45" y1="212.40" x2="808.45" y2="213.90" stroke="#555" stroke-width="0.7" />
<line x1="619.00" y1="212.40" x2="621.60" y2="212.40" stroke="#55698a" stroke-width="0.8" />
<text x="617.20" y="215.40" font-size="9" fill="#5a7aa4" text-anchor="end">0</text>
<line x1="619.00" y1="184.30" x2="621.60" y2="184.30" stroke="#55698a" stroke-width="0.8" />
<text x="617.20" y="187.30" font-size="9" fill="#5a7aa4" text-anchor="end">20</text>
<line x1="619.00" y1="156.20" x2="621.60" y2="156.20" stroke="#55698a" stroke-width="0.8" />
<text x="617.20" y="159.20" font-size="9" fill="#5a7aa4" text-anchor="end">40</text>
<line x1="619.00" y1="128.10" x2="621.60" y2="128.10" stroke="#55698a" stroke-width="0.8" />
<text x="617.20" y="131.10" font-size="9" fill="#5a7aa4" text-anchor="end">60</text>
<line x1="619.00" y1="100.00" x2="621.60" y2="100.00" stroke="#55698a" stroke-width="0.8" />
<text x="617.20" y="103.00" font-size="9" fill="#5a7aa4" text-anchor="end">80</text>
<line x1="619.00" y1="71.90" x2="621.60" y2="71.90" stroke="#55698a" stroke-width="0.8" />
<text x="617.20" y="74.90" font-size="9" fill="#5a7aa4" text-anchor="end">100</text>
<line x1="620.10" y1="198.35" x2="621.60" y2="198.35" stroke="#55698a" stroke-width="0.7" />
<line x1="620.10" y1="170.25" x2="621.60" y2="170.25" stroke="#55698a" stroke-width="0.7" />
<line x1="620.10" y1="142.15" x2="621.60" y2="142.15" stroke="#55698a" stroke-width="0.7" />
<line x1="620.10" y1="114.05" x2="621.60" y2="114.05" stroke="#55698a" stroke-width="0.7" />
<line x1="620.10" y1="85.95" x2="621.60" y2="85.95" stroke="#55698a" stroke-width="0.7" />
<line x1="821.80" y1="73.30" x2="824.40" y2="73.30" stroke="#cfb448" stroke-width="0.8" />
<text x="826.40" y="76.30" font-size="9" fill="#c9ad3c">0</text>
<line x1="821.80" y1="104.10" x2="824.40" y2="104.10" stroke="#cfb448" stroke-width="0.8" />
<text x="826.40" y="107.10" font-size="9" fill="#c9ad3c">-5</text>
<line x1="821.80" y1="134.90" x2="824.40" y2="134.90" stroke="#cfb448" stroke-width="0.8" />
<text x="826.40" y="137.90" font-size="9" fill="#c9ad3c">-10</text>
<line x1="821.80" y1="165.70" x2="824.40" y2="165.70" stroke="#cfb448" stroke-width="0.8" />
<text x="826.40" y="168.70" font-size="9" fill="#c9ad3c">-15</text>
<line x1="821.80" y1="196.50" x2="824.40" y2="196.50" stroke="#cfb448" stroke-width="0.8" />
<text x="826.40" y="199.50" font-size="9" fill="#c9ad3c">-20</text>
<line x1="821.80" y1="88.70" x2="823.30" y2="88.70" stroke="#cfb448" stroke-width="0.7" />
<line x1="821.80" y1="119.50" x2="823.30" y2="119.50" stroke="#cfb448" stroke-width="0.7" />
<line x1="821.80" y1="150.30" x2="823.30" y2="150.30" stroke="#cfb448" stroke-width="0.7" />
<line x1="821.80" y1="181.10" x2="823.30" y2="181.10" stroke="#cfb448" stroke-width="0.7" />
<text x="722.20" y="238.60" font-size="9.2" fill="#222" textLength="67.5" lengthAdjust="spacingAndGlyphs" text-anchor="middle">Tempreture (<tspan font-size="6.2" dy="-3.2">o</tspan><tspan dy="3.2">C)</tspan></text>
<text x="0.00" y="0.00" font-size="9.2" fill="#222" text-anchor="middle" transform="translate(597.5,135.4) rotate(-90)">Mass (%)</text>
<text x="0.00" y="0.00" font-size="9.2" fill="#222" textLength="87" lengthAdjust="spacingAndGlyphs" text-anchor="middle" transform="translate(850.3,133.4) rotate(-90)">Deriv. Weight (%/<tspan font-size="6.2" dy="-3.2">o</tspan><tspan dy="3.2">C)</tspan></text>
<polygon points="58.6,408.0 59.7,400.3 60.8,385.0 61.9,370.9 63.0,364.5 64.1,362.6 65.7,362.2 68.4,363.9 72.3,367.1 77.7,369.4 85.9,370.3 96.8,369.9 113.2,368.4 135.1,366.8 151.5,366.8 167.9,367.7 189.7,368.4 217.0,368.4 249.8,367.1 277.1,365.2 304.4,363.9 315.4,363.0 331.7,360.7 353.6,357.1 375.4,354.1 413.7,347.7 468.3,340.0 517.5,331.1 604.9,318.5 683.0,309.0 771.5,296.6 773.7,296.6 773.7,408.0 58.6,408.0" fill="url(#hf2)" />
<polygon points="58.6,408.0 60.2,406.1 61.9,401.6 63.5,395.9 65.2,391.4 67.3,389.1 69.5,388.2 75.0,387.8 85.9,388.4 107.8,389.5 140.5,389.5 167.9,388.8 214.3,387.9 266.2,386.5 320.8,384.7 375.4,382.6 427.3,380.4 468.3,378.6 501.6,377.2 506.6,377.1 506.6,408.0 58.6,408.0" fill="url(#pf)" />
<polyline points="58.6,408.0 59.7,400.3 60.8,385.0 61.9,370.9 63.0,364.5 64.1,362.6 65.7,362.2 68.4,363.9 72.3,367.1 77.7,369.4 85.9,370.3 96.8,369.9 113.2,368.4 135.1,366.8 151.5,366.8 167.9,367.7 189.7,368.4 217.0,368.4 249.8,367.1 277.1,365.2 304.4,363.9 315.4,363.0 331.7,360.7 353.6,357.1 375.4,354.1 413.7,347.7 468.3,340.0 517.5,331.1 604.9,318.5 683.0,309.0 771.5,296.6" fill="none" stroke="#6a8dbf" stroke-width="1.5" stroke-linejoin="round"/>
<polyline points="58.6,408.0 60.2,406.1 61.9,401.6 63.5,395.9 65.2,391.4 67.3,389.1 69.5,388.2 75.0,387.8 85.9,388.4 107.8,389.5 140.5,389.5 167.9,388.8 214.3,387.9 266.2,386.5 320.8,384.7 375.4,382.6 427.3,380.4 468.3,378.6 501.6,377.2 506.6,377.1" fill="none" stroke="#e3c463" stroke-width="1.5" stroke-linejoin="round"/>
<rect x="769.80" y="293.80" width="4.40" height="8.50" fill="#2e4f86" />
<rect x="774.60" y="294.20" width="3.80" height="7.70" fill="#ffffff" stroke="#8a98b0" stroke-width="0.8"/>
<line x1="777.20" y1="303.00" x2="777.20" y2="306.00" stroke="#8a98b0" stroke-width="0.7" />
<rect x="502.20" y="373.80" width="4.60" height="8.40" fill="#a8861e" />
<rect x="506.80" y="373.80" width="3.90" height="8.40" fill="#ffffff" stroke="#a8861e" stroke-width="0.8"/>
<line x1="507.80" y1="382.20" x2="507.80" y2="389.00" stroke="#d8c080" stroke-width="0.6" />
<text x="674.80" y="333.60" font-size="12.6" fill="#465e8c" textLength="91.5" lengthAdjust="spacingAndGlyphs">6.72×10<tspan font-size="8.5" dy="-5">4</tspan><tspan dy="5"> kJ·m</tspan><tspan font-size="8.5" dy="-5">-3</tspan></text>
<text x="410.60" y="396.30" font-size="12.3" fill="#b8952a" textLength="89.8" lengthAdjust="spacingAndGlyphs">1.44×10<tspan font-size="8.5" dy="-5">4</tspan><tspan dy="5"> kJ·m</tspan><tspan font-size="8.5" dy="-5">-3</tspan></text>
<line x1="76.00" y1="296.80" x2="102.30" y2="296.80" stroke="#a4b6d0" stroke-width="1.5" />
<line x1="76.00" y1="311.60" x2="102.30" y2="311.60" stroke="#efe0a6" stroke-width="1.5" />
<text x="105.50" y="301.30" font-size="12" fill="#1a1a1a">HEMI-ASPE-Li</text>
<text x="105.50" y="315.60" font-size="12" fill="#1a1a1a">PEO-ASPE-Li</text>
<rect x="58.6" y="280.2" width="764.8" height="127.8" fill="none" stroke="#2a2a2a" stroke-width="1.2"/>
<line x1="58.60" y1="408.00" x2="58.60" y2="412.50" stroke="#2a2a2a" stroke-width="1.1" />
<text x="58.60" y="425.70" font-size="12" fill="#1a1a1a" text-anchor="middle">0</text>
<line x1="113.23" y1="408.00" x2="113.23" y2="412.50" stroke="#2a2a2a" stroke-width="1.1" />
<text x="113.23" y="425.70" font-size="12" fill="#1a1a1a" text-anchor="middle">100</text>
<line x1="167.86" y1="408.00" x2="167.86" y2="412.50" stroke="#2a2a2a" stroke-width="1.1" />
<text x="167.86" y="425.70" font-size="12" fill="#1a1a1a" text-anchor="middle">200</text>
<line x1="222.49" y1="408.00" x2="222.49" y2="412.50" stroke="#2a2a2a" stroke-width="1.1" />
<text x="222.49" y="425.70" font-size="12" fill="#1a1a1a" text-anchor="middle">300</text>
<line x1="277.11" y1="408.00" x2="277.11" y2="412.50" stroke="#2a2a2a" stroke-width="1.1" />
<text x="277.11" y="425.70" font-size="12" fill="#1a1a1a" text-anchor="middle">400</text>
<line x1="331.74" y1="408.00" x2="331.74" y2="412.50" stroke="#2a2a2a" stroke-width="1.1" />
<text x="331.74" y="425.70" font-size="12" fill="#1a1a1a" text-anchor="middle">500</text>
<line x1="386.37" y1="408.00" x2="386.37" y2="412.50" stroke="#2a2a2a" stroke-width="1.1" />
<text x="386.37" y="425.70" font-size="12" fill="#1a1a1a" text-anchor="middle">600</text>
<line x1="441.00" y1="408.00" x2="441.00" y2="412.50" stroke="#2a2a2a" stroke-width="1.1" />
<text x="441.00" y="425.70" font-size="12" fill="#1a1a1a" text-anchor="middle">700</text>
<line x1="495.63" y1="408.00" x2="495.63" y2="412.50" stroke="#2a2a2a" stroke-width="1.1" />
<text x="495.63" y="425.70" font-size="12" fill="#1a1a1a" text-anchor="middle">800</text>
<line x1="550.26" y1="408.00" x2="550.26" y2="412.50" stroke="#2a2a2a" stroke-width="1.1" />
<text x="550.26" y="425.70" font-size="12" fill="#1a1a1a" text-anchor="middle">900</text>
<line x1="604.89" y1="408.00" x2="604.89" y2="412.50" stroke="#2a2a2a" stroke-width="1.1" />
<text x="604.89" y="425.70" font-size="12" fill="#1a1a1a" text-anchor="middle">1000</text>
<line x1="659.51" y1="408.00" x2="659.51" y2="412.50" stroke="#2a2a2a" stroke-width="1.1" />
<text x="659.51" y="425.70" font-size="12" fill="#1a1a1a" text-anchor="middle">1100</text>
<line x1="714.14" y1="408.00" x2="714.14" y2="412.50" stroke="#2a2a2a" stroke-width="1.1" />
<text x="714.14" y="425.70" font-size="12" fill="#1a1a1a" text-anchor="middle">1200</text>
<line x1="768.77" y1="408.00" x2="768.77" y2="412.50" stroke="#2a2a2a" stroke-width="1.1" />
<text x="768.77" y="425.70" font-size="12" fill="#1a1a1a" text-anchor="middle">1300</text>
<line x1="823.40" y1="408.00" x2="823.40" y2="412.50" stroke="#2a2a2a" stroke-width="1.1" />
<text x="823.40" y="425.70" font-size="12" fill="#1a1a1a" text-anchor="middle">1400</text>
<line x1="85.91" y1="408.00" x2="85.91" y2="410.50" stroke="#2a2a2a" stroke-width="1.0" />
<line x1="140.54" y1="408.00" x2="140.54" y2="410.50" stroke="#2a2a2a" stroke-width="1.0" />
<line x1="195.17" y1="408.00" x2="195.17" y2="410.50" stroke="#2a2a2a" stroke-width="1.0" />
<line x1="249.80" y1="408.00" x2="249.80" y2="410.50" stroke="#2a2a2a" stroke-width="1.0" />
<line x1="304.43" y1="408.00" x2="304.43" y2="410.50" stroke="#2a2a2a" stroke-width="1.0" />
<line x1="359.06" y1="408.00" x2="359.06" y2="410.50" stroke="#2a2a2a" stroke-width="1.0" />
<line x1="413.69" y1="408.00" x2="413.69" y2="410.50" stroke="#2a2a2a" stroke-width="1.0" />
<line x1="468.31" y1="408.00" x2="468.31" y2="410.50" stroke="#2a2a2a" stroke-width="1.0" />
<line x1="522.94" y1="408.00" x2="522.94" y2="410.50" stroke="#2a2a2a" stroke-width="1.0" />
<line x1="577.57" y1="408.00" x2="577.57" y2="410.50" stroke="#2a2a2a" stroke-width="1.0" />
<line x1="632.20" y1="408.00" x2="632.20" y2="410.50" stroke="#2a2a2a" stroke-width="1.0" />
<line x1="686.83" y1="408.00" x2="686.83" y2="410.50" stroke="#2a2a2a" stroke-width="1.0" />
<line x1="741.46" y1="408.00" x2="741.46" y2="410.50" stroke="#2a2a2a" stroke-width="1.0" />
<line x1="796.09" y1="408.00" x2="796.09" y2="410.50" stroke="#2a2a2a" stroke-width="1.0" />
<line x1="54.10" y1="408.00" x2="58.60" y2="408.00" stroke="#2a2a2a" stroke-width="1.1" />
<text x="50.80" y="412.30" font-size="12" fill="#1a1a1a" text-anchor="end">0</text>
<line x1="54.10" y1="382.44" x2="58.60" y2="382.44" stroke="#2a2a2a" stroke-width="1.1" />
<text x="50.80" y="386.74" font-size="12" fill="#1a1a1a" text-anchor="end">2</text>
<line x1="54.10" y1="356.88" x2="58.60" y2="356.88" stroke="#2a2a2a" stroke-width="1.1" />
<text x="50.80" y="361.18" font-size="12" fill="#1a1a1a" text-anchor="end">4</text>
<line x1="54.10" y1="331.32" x2="58.60" y2="331.32" stroke="#2a2a2a" stroke-width="1.1" />
<text x="50.80" y="335.62" font-size="12" fill="#1a1a1a" text-anchor="end">6</text>
<line x1="54.10" y1="305.76" x2="58.60" y2="305.76" stroke="#2a2a2a" stroke-width="1.1" />
<text x="50.80" y="310.06" font-size="12" fill="#1a1a1a" text-anchor="end">8</text>
<line x1="54.10" y1="280.20" x2="58.60" y2="280.20" stroke="#2a2a2a" stroke-width="1.1" />
<text x="50.80" y="284.50" font-size="12" fill="#1a1a1a" text-anchor="end">10</text>
<line x1="56.10" y1="395.22" x2="58.60" y2="395.22" stroke="#2a2a2a" stroke-width="1.0" />
<line x1="56.10" y1="369.66" x2="58.60" y2="369.66" stroke="#2a2a2a" stroke-width="1.0" />
<line x1="56.10" y1="344.10" x2="58.60" y2="344.10" stroke="#2a2a2a" stroke-width="1.0" />
<line x1="56.10" y1="318.54" x2="58.60" y2="318.54" stroke="#2a2a2a" stroke-width="1.0" />
<line x1="56.10" y1="292.98" x2="58.60" y2="292.98" stroke="#2a2a2a" stroke-width="1.0" />
<text x="441.00" y="445.10" font-size="12" fill="#1a1a1a" text-anchor="middle">Strain (%)</text>
<text x="0.00" y="0.00" font-size="12" fill="#1a1a1a" text-anchor="middle" transform="translate(32.0,344.1) rotate(-90)">Stress (MPa)</text>
<rect x="39.00" y="509.30" width="112.90" height="77.70" fill="#565656" />
<rect x="39.00" y="509.30" width="112.90" height="77.70" fill="#fff" filter="url(#semn)" opacity="0.12"/>
<rect x="39.00" y="509.30" width="112.90" height="77.70" fill="#fff" filter="url(#semf)" opacity="0.06"/>
<rect x="112.10" y="509.30" width="39.80" height="39.20" fill="#4f636c" />
<circle cx="132.4" cy="528.5" r="14.8" fill="#e7e58b"/>
<text x="43.60" y="523.00" font-size="9.8" fill="#d8d890" textLength="62.5" lengthAdjust="spacingAndGlyphs" stroke="#d8d890" stroke-width="0.25">HEMI-ASPE-Li</text>
<text x="45.40" y="576.10" font-size="7.0" fill="#dede90" textLength="17.0" lengthAdjust="spacingAndGlyphs">10 µm</text>
<line x1="44.00" y1="581.40" x2="64.60" y2="581.40" stroke="#e8e07a" stroke-width="1.6" />
<line x1="44.00" y1="579.20" x2="44.00" y2="583.60" stroke="#e8e07a" stroke-width="1.2" />
<line x1="64.60" y1="579.20" x2="64.60" y2="583.60" stroke="#e8e07a" stroke-width="1.2" />
<rect x="157.00" y="509.30" width="114.40" height="77.70" fill="#525252" />
<rect x="157.00" y="509.30" width="114.40" height="77.70" fill="#fff" filter="url(#semn)" opacity="0.12"/>
<rect x="157.00" y="509.30" width="114.40" height="77.70" fill="#fff" filter="url(#semf)" opacity="0.12"/>
<clipPath id="ctr"><rect x="157" y="509.3" width="114.4" height="77.7"/></clipPath><g clip-path="url(#ctr)">
<path d="M175.3,562.4 Q179.3,565.1 188.9,561.9" fill="none" stroke="#9a9a9a" stroke-width="1.08" opacity="0.25"/>
<path d="M213.1,529.2 Q216.9,523.6 219.1,526.7" fill="none" stroke="#9a9a9a" stroke-width="1.08" opacity="0.20"/>
<path d="M182.8,515.1 Q195.6,518.6 200.8,519.9" fill="none" stroke="#9a9a9a" stroke-width="0.62" opacity="0.22"/>
<path d="M212.2,520.5 Q217.5,522.3 229.7,517.8" fill="none" stroke="#9a9a9a" stroke-width="0.67" opacity="0.34"/>
<path d="M207.3,552.3 Q209.2,547.5 217.4,552.0" fill="none" stroke="#9a9a9a" stroke-width="1.12" opacity="0.20"/>
<path d="M243.6,527.2 Q255.0,533.8 261.2,535.1" fill="none" stroke="#9a9a9a" stroke-width="0.95" opacity="0.30"/>
<path d="M170.6,546.8 Q182.8,547.7 186.5,540.8" fill="none" stroke="#9a9a9a" stroke-width="0.85" opacity="0.22"/>
<path d="M207.1,540.2 Q211.3,535.0 225.0,537.9" fill="none" stroke="#9a9a9a" stroke-width="1.03" opacity="0.35"/>
<path d="M212.1,547.9 Q215.6,551.5 224.7,552.8" fill="none" stroke="#9a9a9a" stroke-width="0.93" opacity="0.27"/>
<path d="M177.1,524.4 Q180.6,529.7 187.2,533.0" fill="none" stroke="#9a9a9a" stroke-width="0.78" opacity="0.17"/>
<path d="M164.3,571.4 Q173.8,571.9 179.6,568.9" fill="none" stroke="#9a9a9a" stroke-width="1.14" opacity="0.34"/>
<path d="M202.2,584.2 Q214.8,585.0 219.7,586.0" fill="none" stroke="#9a9a9a" stroke-width="0.83" opacity="0.20"/>
<path d="M254.3,523.8 Q260.4,526.7 261.1,530.0" fill="none" stroke="#9a9a9a" stroke-width="1.10" opacity="0.16"/>
<path d="M185.6,533.2 Q186.8,528.2 196.7,526.6" fill="none" stroke="#9a9a9a" stroke-width="1.14" opacity="0.35"/>
<path d="M239.8,547.0 Q244.6,553.8 248.8,556.1" fill="none" stroke="#9a9a9a" stroke-width="0.62" opacity="0.19"/>
<path d="M250.0,570.1 Q257.6,571.9 266.6,572.1" fill="none" stroke="#9a9a9a" stroke-width="1.11" opacity="0.21"/>
<path d="M216.3,532.1 Q225.8,531.8 231.5,522.4" fill="none" stroke="#9a9a9a" stroke-width="0.61" opacity="0.27"/>
<path d="M228.5,574.2 Q234.0,576.3 241.5,569.3" fill="none" stroke="#9a9a9a" stroke-width="1.14" opacity="0.18"/>
<path d="M167.5,518.9 Q167.1,522.0 173.8,517.8" fill="none" stroke="#9a9a9a" stroke-width="0.99" opacity="0.18"/>
<path d="M216.8,535.7 Q219.4,529.7 228.7,530.1" fill="none" stroke="#9a9a9a" stroke-width="0.83" opacity="0.29"/>
<path d="M218.1,515.4 Q228.1,522.0 232.6,522.8" fill="none" stroke="#9a9a9a" stroke-width="0.60" opacity="0.24"/>
<path d="M164.0,567.8 Q165.6,571.8 172.2,572.0" fill="none" stroke="#9a9a9a" stroke-width="0.79" opacity="0.16"/>
<path d="M200.2,534.6 Q208.6,533.0 217.0,530.5" fill="none" stroke="#9a9a9a" stroke-width="1.17" opacity="0.17"/>
<path d="M223.7,549.1 Q229.2,555.8 238.5,558.4" fill="none" stroke="#9a9a9a" stroke-width="0.92" opacity="0.26"/>
<path d="M164.1,571.5 Q171.1,575.0 181.8,568.6" fill="none" stroke="#9a9a9a" stroke-width="0.66" opacity="0.17"/>
<path d="M165.1,571.4 Q173.9,566.1 180.3,570.4" fill="none" stroke="#9a9a9a" stroke-width="0.99" opacity="0.24"/>
</g>
<rect x="231.40" y="509.30" width="40.00" height="38.90" fill="#4f636c" />
<circle cx="251.6" cy="528.3" r="14.6" fill="#e5e7e1"/>
<text x="160.40" y="522.40" font-size="9.8" fill="#d8d890" textLength="58.6" lengthAdjust="spacingAndGlyphs" stroke="#d8d890" stroke-width="0.25">PEO-ASPE-Li</text>
<text x="163.20" y="575.60" font-size="7.0" fill="#dede90" textLength="17.0" lengthAdjust="spacingAndGlyphs">10 µm</text>
<line x1="161.80" y1="580.90" x2="184.00" y2="580.90" stroke="#e8e07a" stroke-width="1.6" />
<line x1="161.80" y1="578.70" x2="161.80" y2="583.10" stroke="#e8e07a" stroke-width="1.2" />
<line x1="184.00" y1="578.70" x2="184.00" y2="583.10" stroke="#e8e07a" stroke-width="1.2" />
<clipPath id="cbl"><rect x="39.2" y="592.9" width="112.6" height="75.6"/></clipPath>
<g clip-path="url(#cbl)">
<rect x="39.20" y="592.90" width="112.60" height="75.60" fill="#3d3d3d" />
<polygon points="39.2,630.0 50.0,636.0 62.0,645.0 72.0,656.0 80.0,668.5 66.0,668.5 58.0,660.0 48.0,652.0 39.2,646.0" fill="#a4a4a4" />
<polygon points="39.2,646.0 48.0,652.0 56.0,660.0 62.0,668.5 39.2,668.5" fill="#5a5a5a" />
<polygon points="62.0,592.9 151.8,592.9 151.8,654.6" fill="#646464" />
<line x1="70.00" y1="592.90" x2="151.80" y2="630.00" stroke="#666" stroke-width="0.6" opacity="0.6"/>
<line x1="77.00" y1="592.90" x2="151.80" y2="634.20" stroke="#666" stroke-width="0.6" opacity="0.6"/>
<line x1="84.00" y1="592.90" x2="151.80" y2="638.40" stroke="#666" stroke-width="0.6" opacity="0.6"/>
<line x1="91.00" y1="592.90" x2="151.80" y2="642.60" stroke="#666" stroke-width="0.6" opacity="0.6"/>
<line x1="98.00" y1="592.90" x2="151.80" y2="646.80" stroke="#666" stroke-width="0.6" opacity="0.6"/>
<line x1="105.00" y1="592.90" x2="151.80" y2="651.00" stroke="#666" stroke-width="0.6" opacity="0.6"/>
<line x1="112.00" y1="592.90" x2="151.80" y2="655.20" stroke="#666" stroke-width="0.6" opacity="0.6"/>
<line x1="119.00" y1="592.90" x2="151.80" y2="659.40" stroke="#666" stroke-width="0.6" opacity="0.6"/>
<line x1="126.00" y1="592.90" x2="151.80" y2="663.60" stroke="#666" stroke-width="0.6" opacity="0.6"/>
<polygon points="48.9,592.9 62.0,592.9 151.8,654.6 151.8,665.7 118.2,640.7 96.0,627.5 64.8,604.6" fill="#d7d9da" />
<polygon points="54.0,592.9 60.0,592.9 151.8,656.0 151.8,660.0" fill="#eeeeee" opacity="0.8"/>
<polygon points="39.2,592.9 48.9,592.9 64.8,604.6 96.0,627.5 118.2,640.7 151.8,665.7 151.8,668.5 121.0,668.5 104.4,656.0 83.6,646.3 62.7,628.2 39.2,614.4" fill="#52666f" />
<polygon points="39.2,592.9 48.9,592.9 64.8,604.6 96.0,627.5 118.2,640.7 151.8,665.7 151.8,668.5 121.0,668.5 104.4,656.0 83.6,646.3 62.7,628.2 39.2,614.4" fill="#fff" filter="url(#semf)" opacity="0.12"/>
<polyline points="48.9,592.9 64.8,604.6 96.0,627.5 118.2,640.7 151.8,665.7" fill="none" stroke="#c8b040" stroke-width="0.9"/>
<polyline points="39.2,614.4 62.7,628.2 83.6,646.3 104.4,656.0 121.0,668.5" fill="none" stroke="#c8b040" stroke-width="0.9"/>
<line x1="83.60" y1="647.00" x2="97.40" y2="627.50" stroke="#e8e89a" stroke-width="1.0" />
<circle cx="83.6" cy="647" r="1.1" fill="#e8e89a"/><circle cx="97.4" cy="627.5" r="1.1" fill="#e8e89a"/>
<text x="88.20" y="649.70" font-size="10.2" fill="#f4f4f4" textLength="31.0" lengthAdjust="spacingAndGlyphs">117 µm</text>
<text x="45.80" y="657.60" font-size="7.0" fill="#dede90" textLength="20.4" lengthAdjust="spacingAndGlyphs">100 µm</text>
<line x1="44.40" y1="662.90" x2="65.50" y2="662.90" stroke="#e8e07a" stroke-width="1.6" />
<line x1="44.40" y1="660.70" x2="44.40" y2="665.10" stroke="#e8e07a" stroke-width="1.2" />
<line x1="65.50" y1="660.70" x2="65.50" y2="665.10" stroke="#e8e07a" stroke-width="1.2" />
</g>
<clipPath id="cbr"><rect x="157.2" y="592.9" width="113.7" height="75.6"/></clipPath>
<g clip-path="url(#cbr)">
<rect x="157.20" y="592.90" width="113.70" height="75.60" fill="#3e3e3e" />
<polygon points="197.4,592.9 270.9,592.9 270.9,646.3" fill="#6a6a6a" />
<polygon points="230.0,592.9 270.9,592.9 270.9,630.0 255.0,612.0" fill="#7a7a7a" opacity="0.7"/>
<rect x="157.20" y="592.90" width="113.70" height="75.60" fill="#fff" filter="url(#semn)" opacity="0.06"/>
<polygon points="197.4,592.9 205.7,592.9 220.0,603.0 240.0,615.0 258.0,626.0 270.9,638.0 270.9,646.3 258.4,632.4 243.2,625.5 230.7,618.5 219.6,611.6 208.5,601.9" fill="#dcdedf" />
<polygon points="157.2,592.9 197.4,592.9 208.5,601.9 219.6,611.6 230.7,618.5 243.2,625.5 258.4,632.4 270.9,646.3 270.9,668.5 222.4,668.5 218.2,664.3 205.7,657.4 191.8,649.0 180.7,639.3 166.9,629.6 157.2,627.5" fill="#52666f" />
<polygon points="157.2,592.9 197.4,592.9 208.5,601.9 219.6,611.6 230.7,618.5 243.2,625.5 258.4,632.4 270.9,646.3 270.9,668.5 222.4,668.5 218.2,664.3 205.7,657.4 191.8,649.0 180.7,639.3 166.9,629.6 157.2,627.5" fill="#fff" filter="url(#semf)" opacity="0.12"/>
<polyline points="197.4,592.9 208.5,601.9 219.6,611.6 230.7,618.5 243.2,625.5 258.4,632.4 270.9,646.3" fill="none" stroke="#c8b040" stroke-width="0.9"/>
<polyline points="157.2,627.5 166.9,629.6 180.7,639.3 191.8,649.0 205.7,657.4 218.2,664.3 222.4,668.5" fill="none" stroke="#c8b040" stroke-width="0.9"/>
<line x1="191.80" y1="649.00" x2="219.60" y2="611.60" stroke="#e8e89a" stroke-width="1.0" />
<circle cx="191.8" cy="649" r="1.1" fill="#e8e89a"/><circle cx="219.6" cy="611.6" r="1.1" fill="#e8e89a"/>
<text x="203.60" y="645.50" font-size="10.2" fill="#f4f4f4" textLength="32.6" lengthAdjust="spacingAndGlyphs">233 µm</text>
<text x="163.00" y="657.60" font-size="7.0" fill="#dede90" textLength="20.4" lengthAdjust="spacingAndGlyphs">100 µm</text>
<line x1="161.60" y1="662.90" x2="182.80" y2="662.90" stroke="#e8e07a" stroke-width="1.6" />
<line x1="161.60" y1="660.70" x2="161.60" y2="665.10" stroke="#e8e07a" stroke-width="1.2" />
<line x1="182.80" y1="660.70" x2="182.80" y2="665.10" stroke="#e8e07a" stroke-width="1.2" />
</g>
<clipPath id="afm1"><polygon points="397.7,504.3 500.2,552.6 413.3,638.6 303.6,562.1"/></clipPath>
<g clip-path="url(#afm1)"><g filter="url(#afmd)">
<polygon points="290.0,495.0 510.0,495.0 510.0,645.0 290.0,645.0" fill="#36d236" />
<polygon points="303.6,562.1 320.0,552.0 340.0,540.0 360.0,528.0 380.0,516.0 397.7,504.3 399.0,508.0 384.0,518.0 365.0,530.0 345.0,542.0 325.0,554.0 310.0,563.0" fill="#3cb6f2" />
<polygon points="330.0,546.0 335.0,542.0 342.0,542.5 344.0,547.0 338.0,550.0 332.0,549.0" fill="#3cb6f2" />
<polygon points="362.0,532.0 368.0,527.0 376.0,527.0 379.0,531.0 376.0,538.0 370.0,541.0 364.0,538.0" fill="#3cb6f2" />
<polygon points="374.0,523.0 386.0,516.0 398.0,512.0 408.0,513.0 418.0,515.0 425.0,520.0 421.0,526.0 410.0,528.0 400.0,527.0 390.0,529.0 380.0,528.0" fill="#3cb6f2" />
<polygon points="312.0,563.0 335.0,562.0 347.4,559.2 366.4,554.5 383.0,547.4 399.5,537.9 413.0,527.0 432.0,526.0 447.0,538.0 446.0,546.0 432.7,552.1 413.7,556.9 394.8,559.2 378.2,564.0 361.6,568.7 347.4,571.1 336.0,572.0 322.0,574.0 312.0,570.0" fill="#e2f02c" stroke="#36d236" stroke-width="2.6" stroke-linejoin="round"/>
<polygon points="355.0,570.0 375.0,568.0 398.0,566.0 410.0,563.0 420.0,561.0 415.0,570.0 400.0,577.0 385.0,579.6 365.0,578.0 356.0,575.0" fill="#e2f02c" stroke="#36d236" stroke-width="2.6" stroke-linejoin="round"/>
<polygon points="379.0,562.0 405.0,559.0 404.0,564.0 380.0,566.0" fill="#3cb6f2" />
<polygon points="333.0,575.0 345.0,576.0 354.0,584.0 365.0,583.0 378.6,580.8 398.0,578.4 415.0,572.3 430.0,566.0 440.0,556.0 446.0,545.0 460.0,546.0 475.0,549.0 490.0,553.0 499.0,553.0 492.2,558.7 475.8,569.7 464.8,576.5 444.3,580.6 423.7,586.1 410.0,590.2 398.0,597.8 378.6,600.2 360.3,601.4 352.0,596.0 345.0,590.0 338.0,584.0 332.0,580.0" fill="#3cb6f2" />
<polygon points="375.0,589.0 390.0,586.0 405.0,585.0 418.0,581.0 432.0,575.0 446.0,568.0 460.0,563.0 470.0,562.0 466.0,566.0 450.0,572.0 436.0,580.0 420.0,587.0 402.0,591.0 388.0,592.0 377.0,593.0" fill="#3a78e6" />
<polygon points="368.0,606.0 380.0,603.0 398.0,601.0 410.0,596.0 423.7,590.0 444.3,583.0 464.8,577.0 475.8,570.0 492.2,559.0 499.1,553.2 500.0,556.0 458.6,596.0 444.3,599.8 430.6,605.3 420.0,612.0 405.0,620.0 388.0,626.0 378.0,624.0 370.0,618.0" fill="#e2f02c" stroke="#36d236" stroke-width="2.6" stroke-linejoin="round"/>
<polygon points="474.4,566.0 485.0,562.8 492.2,560.0 490.0,568.0 482.0,574.0 476.0,576.0" fill="#f28a24" />
<polygon points="409.7,534.0 415.0,532.8 419.4,535.0 415.0,537.6 410.0,537.0" fill="#f28a24" />
<polygon points="396.0,550.0 401.0,549.8 402.0,553.4 397.0,553.0" fill="#f28a24" />
<polygon points="402.8,620.0 420.0,614.0 437.4,608.0 430.0,620.0 420.0,628.0 414.0,636.8 405.0,632.0" fill="#3cb6f2" />
<polygon points="437.4,594.3 444.3,594.5 443.0,599.8 438.0,599.0" fill="#3cb6f2" />
<polygon points="451.0,556.0 458.0,555.2 462.0,557.0 469.2,556.0 468.0,560.7 458.0,560.0 452.0,560.0" fill="#d83ad8" stroke="#7a50e0" stroke-width="1.6" stroke-linejoin="round"/>
<polygon points="426.7,567.0 432.0,566.0 435.2,569.0 432.0,571.6 428.0,571.0" fill="#d83ad8" stroke="#7a50e0" stroke-width="1.6" stroke-linejoin="round"/>
<polygon points="353.0,594.0 358.0,594.5 361.6,597.0 357.0,599.0 354.0,598.0" fill="#d83ad8" stroke="#7a50e0" stroke-width="1.6" stroke-linejoin="round"/>
<polygon points="404.0,580.0 409.0,579.6 408.0,581.4 404.0,581.4" fill="#d83ad8" stroke="#7a50e0" stroke-width="1.6" stroke-linejoin="round"/>
<polygon points="377.0,520.0 382.0,517.5 388.0,519.0 387.0,524.0 380.0,524.5" fill="#d83ad8" stroke="#7a50e0" stroke-width="1.6" stroke-linejoin="round"/>
<polygon points="371.0,520.0 375.0,516.0 379.0,516.0 378.0,519.0 374.0,522.0" fill="#ee2424" />
<polygon points="410.0,633.0 414.0,631.0 416.0,636.0 412.0,637.0" fill="#3a78e6" />
</g>
<polygon points="397.7,504.3 500.2,552.6 413.3,638.6 303.6,562.1" fill="#fff" filter="url(#afmn)" opacity="0.22"/>
</g>
<clipPath id="afm2"><polygon points="690.3,505.2 791.1,549.8 704.6,637.4 597.2,558.8"/></clipPath>
<g clip-path="url(#afm2)"><g filter="url(#afmd)">
<polygon points="585.0,495.0 800.0,495.0 800.0,645.0 585.0,645.0" fill="#36d236" />
<polygon points="607.0,556.0 620.0,548.0 635.0,540.0 648.0,532.0 660.0,524.0 672.0,515.0 682.0,510.0 685.0,515.0 676.0,524.0 668.0,533.0 660.0,544.0 652.0,556.0 646.0,568.0 642.0,580.0 640.0,592.0 632.0,588.0 622.0,582.0 612.0,575.0 604.0,566.0" fill="#e2f02c" stroke="#36d236" stroke-width="2.6" stroke-linejoin="round"/>
<polygon points="597.4,560.0 603.0,555.0 612.0,551.0 620.0,551.0 618.0,558.0 610.0,563.0 604.0,566.0" fill="#3cb6f2" />
<polygon points="645.0,533.0 650.0,528.0 656.0,525.0 662.0,524.0 660.0,530.0 652.0,534.0" fill="#f28a24" />
<polygon points="654.0,527.0 661.0,524.3 660.0,528.0 655.0,529.0" fill="#ee2424" />
<polygon points="628.0,557.0 632.0,553.4 636.3,555.0 635.0,560.7 629.0,560.0" fill="#f28a24" />
<polygon points="607.0,562.0 615.0,560.0 625.0,566.0 622.0,572.0 612.0,570.0" fill="#36d236" />
<polygon points="615.0,549.0 619.0,546.5 623.0,547.0 621.0,550.0 617.0,550.5" fill="#d83ad8" stroke="#7a50e0" stroke-width="1.6" stroke-linejoin="round"/>
<polygon points="676.0,512.0 686.0,513.0 681.0,525.0 672.0,538.0 664.0,551.0 658.0,563.0 652.0,576.0 648.0,590.0 646.0,598.0 640.0,596.0 640.0,585.0 643.0,572.0 648.0,558.0 655.0,546.0 663.0,534.0 670.0,522.0" fill="#3cb6f2" />
<polygon points="640.0,585.0 643.0,572.0 646.0,566.0 644.0,580.0 641.0,594.0" fill="#36d236" />
<polygon points="693.9,528.4 703.4,532.0 698.6,547.4 682.0,571.1 670.2,590.0 663.1,599.5 652.4,599.5 651.2,594.8 660.7,571.1 679.7,547.4" fill="#d83ad8" stroke="#7a50e0" stroke-width="1.6" stroke-linejoin="round"/>
<polygon points="684.0,540.0 692.0,533.0 694.0,537.0 686.0,548.0 678.0,556.0 674.0,552.0" fill="#3a78e6" />
<polygon points="663.1,599.5 670.2,590.0 682.0,571.1 686.0,566.0 684.0,580.0 678.0,595.0 672.0,610.0 666.0,612.0" fill="#36d236" />
<polygon points="686.0,560.0 700.0,550.0 712.0,546.0 725.0,545.0 738.0,548.0 740.0,555.0 735.0,565.0 728.0,575.0 718.0,586.0 705.0,598.0 697.0,608.0 694.0,620.0 698.0,628.0 692.0,622.0 684.0,614.0 674.0,606.0 676.0,590.0 680.0,575.0" fill="#e2f02c" stroke="#36d236" stroke-width="2.6" stroke-linejoin="round"/>
<polygon points="682.0,571.1 691.5,559.2 708.1,554.5 724.7,559.2 731.8,568.7 724.7,580.6 710.5,585.3 696.3,582.9" fill="#f28a24" />
<polygon points="686.8,568.7 696.3,560.4 710.5,556.9 720.0,561.6 721.1,571.1 715.2,578.2 703.4,580.6 693.9,575.8" fill="#ee2424" />
<polygon points="682.0,601.9 686.8,590.0 696.3,585.3 703.4,587.7 698.6,597.2 689.2,606.6 683.2,606.6" fill="#f28a24" />
<polygon points="730.0,538.0 740.0,536.4 747.0,538.0 745.0,546.0 736.0,546.0 731.0,543.0" fill="#f28a24" />
<polygon points="700.0,518.0 712.0,514.0 728.0,516.0 745.0,522.0 758.0,530.0 752.0,538.0 740.0,542.0 725.0,540.0 712.0,536.0 704.0,530.0" fill="#3cb6f2" />
<polygon points="712.0,519.0 725.0,518.0 735.0,523.0 728.0,527.0 716.0,525.0" fill="#3a78e6" />
<polygon points="684.0,509.0 690.3,505.2 697.3,509.0 697.0,515.8 690.0,515.0" fill="#3cb6f2" />
<polygon points="697.0,512.0 703.0,509.7 711.8,513.0 711.8,518.0 700.0,519.0" fill="#e2f02c" stroke="#36d236" stroke-width="2.6" stroke-linejoin="round"/>
<polygon points="701.0,515.0 704.0,513.0 707.0,514.0 706.0,517.0 702.0,517.0" fill="#f28a24" />
<polygon points="780.0,549.0 768.0,551.0 754.0,557.0 741.0,567.0 730.0,578.2 720.0,589.0 711.0,599.5 704.0,609.0 699.5,618.5 696.0,632.7 705.0,640.0 795.0,549.0" fill="#3cb6f2" />
<polygon points="724.0,590.0 736.0,580.0 748.0,570.0 756.0,565.0 752.0,573.0 741.0,583.0 730.0,594.0 720.0,602.0" fill="#3a78e6" />
<polygon points="770.0,563.0 758.0,572.0 750.0,578.2 742.0,589.0 734.0,599.5 725.0,609.0 715.0,618.5 707.0,629.0 716.0,634.0 745.0,604.0 768.0,580.0 778.0,568.0" fill="#d83ad8" stroke="#7a50e0" stroke-width="1.6" stroke-linejoin="round"/>
<polygon points="758.0,546.0 765.0,546.0 765.0,551.0 758.0,551.0" fill="#3cb6f2" />
<polygon points="775.0,553.0 786.0,551.0 784.0,560.0 776.0,562.0" fill="#3cb6f2" />
<polygon points="702.0,630.0 707.0,628.0 706.0,637.0" fill="#3a78e6" />
</g>
<polygon points="690.3,505.2 791.1,549.8 704.6,637.4 597.2,558.8" fill="#fff" filter="url(#afmn)" opacity="0.22"/>
</g>
<polyline points="302.2,567.8 412.1,648.5 500.4,557.8" fill="none" stroke="#666" stroke-width="0.8"/>
<line x1="302.20" y1="567.80" x2="300.20" y2="570.40" stroke="#666" stroke-width="0.7" />
<line x1="412.10" y1="648.50" x2="414.30" y2="650.90" stroke="#666" stroke-width="0.7" />
<line x1="324.18" y1="583.94" x2="322.18" y2="586.54" stroke="#666" stroke-width="0.7" />
<line x1="429.76" y1="630.36" x2="431.96" y2="632.76" stroke="#666" stroke-width="0.7" />
<line x1="346.16" y1="600.08" x2="344.16" y2="602.68" stroke="#666" stroke-width="0.7" />
<line x1="447.42" y1="612.22" x2="449.62" y2="614.62" stroke="#666" stroke-width="0.7" />
<line x1="368.14" y1="616.22" x2="366.14" y2="618.82" stroke="#666" stroke-width="0.7" />
<line x1="465.08" y1="594.08" x2="467.28" y2="596.48" stroke="#666" stroke-width="0.7" />
<line x1="390.12" y1="632.36" x2="388.12" y2="634.96" stroke="#666" stroke-width="0.7" />
<line x1="482.74" y1="575.94" x2="484.94" y2="578.34" stroke="#666" stroke-width="0.7" />
<line x1="412.10" y1="648.50" x2="410.10" y2="651.10" stroke="#666" stroke-width="0.7" />
<line x1="500.40" y1="557.80" x2="502.60" y2="560.20" stroke="#666" stroke-width="0.7" />
<line x1="412.10" y1="648.50" x2="409.10" y2="651.50" stroke="#666" stroke-width="0.7" />
<line x1="500.40" y1="557.80" x2="501.40" y2="552.30" stroke="#666" stroke-width="0.7" />
<line x1="501.40" y1="552.30" x2="503.90" y2="551.50" stroke="#666" stroke-width="0.7" />
<text x="297.50" y="582.60" font-size="10" fill="#222" text-anchor="middle">0</text>
<text x="315.30" y="596.40" font-size="10" fill="#222" text-anchor="middle">2</text>
<text x="334.10" y="609.90" font-size="10" fill="#222" text-anchor="middle">4</text>
<text x="355.70" y="625.80" font-size="10" fill="#222" text-anchor="middle">6</text>
<text x="380.00" y="641.80" font-size="10" fill="#222" text-anchor="middle">8</text>
<text x="405.40" y="662.00" font-size="10" fill="#222" text-anchor="middle">10</text>
<text x="421.60" y="661.80" font-size="10" fill="#222" text-anchor="middle">0</text>
<text x="440.30" y="639.60" font-size="10" fill="#222" text-anchor="middle">2</text>
<text x="457.20" y="619.60" font-size="10" fill="#222" text-anchor="middle">4</text>
<text x="475.00" y="602.60" font-size="10" fill="#222" text-anchor="middle">6</text>
<text x="491.00" y="586.80" font-size="10" fill="#222" text-anchor="middle">8</text>
<text x="506.00" y="572.60" font-size="10" fill="#222" text-anchor="middle">10</text>
<text x="505.00" y="552.50" font-size="10" fill="#222">1 µm</text>
<text x="413.10" y="670.00" font-size="10" fill="#222" text-anchor="middle">µm</text>
<rect x="445.00" y="633.30" width="96.20" height="36.70" fill="#efefef" stroke="#c8c8c8" stroke-width="0.8"/>
<text x="445.90" y="648.10" font-size="11.3" fill="#222" textLength="94.0" lengthAdjust="spacingAndGlyphs">Image Ra=86.8 nm</text>
<text x="536.90" y="664.00" font-size="11.3" fill="#222" text-anchor="end">Rq=111 nm</text>
<rect x="357.00" y="471.40" width="90.50" height="17.70" fill="#efefef" />
<text x="401.90" y="485.40" font-size="12" fill="#222" textLength="84.5" lengthAdjust="spacingAndGlyphs" text-anchor="middle">HEMI-ASPE-Li</text>
<polyline points="595.3,564.6 705.0,645.2 792.6,552.8" fill="none" stroke="#666" stroke-width="0.8"/>
<line x1="595.30" y1="564.60" x2="593.30" y2="567.20" stroke="#666" stroke-width="0.7" />
<line x1="705.00" y1="645.20" x2="707.20" y2="647.60" stroke="#666" stroke-width="0.7" />
<line x1="617.24" y1="580.72" x2="615.24" y2="583.32" stroke="#666" stroke-width="0.7" />
<line x1="722.52" y1="626.72" x2="724.72" y2="629.12" stroke="#666" stroke-width="0.7" />
<line x1="639.18" y1="596.84" x2="637.18" y2="599.44" stroke="#666" stroke-width="0.7" />
<line x1="740.04" y1="608.24" x2="742.24" y2="610.64" stroke="#666" stroke-width="0.7" />
<line x1="661.12" y1="612.96" x2="659.12" y2="615.56" stroke="#666" stroke-width="0.7" />
<line x1="757.56" y1="589.76" x2="759.76" y2="592.16" stroke="#666" stroke-width="0.7" />
<line x1="683.06" y1="629.08" x2="681.06" y2="631.68" stroke="#666" stroke-width="0.7" />
<line x1="775.08" y1="571.28" x2="777.28" y2="573.68" stroke="#666" stroke-width="0.7" />
<line x1="705.00" y1="645.20" x2="703.00" y2="647.80" stroke="#666" stroke-width="0.7" />
<line x1="792.60" y1="552.80" x2="794.80" y2="555.20" stroke="#666" stroke-width="0.7" />
<line x1="705.00" y1="645.20" x2="702.00" y2="648.20" stroke="#666" stroke-width="0.7" />
<line x1="792.60" y1="552.80" x2="793.60" y2="547.30" stroke="#666" stroke-width="0.7" />
<line x1="793.60" y1="547.30" x2="796.10" y2="546.50" stroke="#666" stroke-width="0.7" />
<text x="590.60" y="579.90" font-size="10" fill="#222" text-anchor="middle">0</text>
<text x="608.50" y="593.00" font-size="10" fill="#222" text-anchor="middle">2</text>
<text x="627.20" y="607.60" font-size="10" fill="#222" text-anchor="middle">4</text>
<text x="649.20" y="623.00" font-size="10" fill="#222" text-anchor="middle">6</text>
<text x="673.70" y="639.50" font-size="10" fill="#222" text-anchor="middle">8</text>
<text x="695.70" y="659.00" font-size="10" fill="#222" text-anchor="middle">10</text>
<text x="714.70" y="658.70" font-size="10" fill="#222" text-anchor="middle">0</text>
<text x="733.50" y="637.10" font-size="10" fill="#222" text-anchor="middle">2</text>
<text x="750.30" y="617.00" font-size="10" fill="#222" text-anchor="middle">4</text>
<text x="768.20" y="600.10" font-size="10" fill="#222" text-anchor="middle">6</text>
<text x="784.10" y="584.60" font-size="10" fill="#222" text-anchor="middle">8</text>
<text x="799.10" y="570.10" font-size="10" fill="#222" text-anchor="middle">10</text>
<text x="798.20" y="549.50" font-size="10" fill="#222">1 µm</text>
<text x="707.00" y="669.00" font-size="10" fill="#222" text-anchor="middle">µm</text>
<rect x="746.60" y="630.30" width="98.20" height="37.30" fill="#efefef" stroke="#c8c8c8" stroke-width="0.8"/>
<text x="748.30" y="644.70" font-size="11.3" fill="#222" textLength="90.3" lengthAdjust="spacingAndGlyphs">Image Ra=164 nm</text>
<text x="839.30" y="660.40" font-size="11.3" fill="#222" text-anchor="end">Rq=209 nm</text>
<rect x="654.00" y="468.50" width="82.30" height="17.50" fill="#efefef" />
<text x="694.50" y="481.80" font-size="12" fill="#222" textLength="78.6" lengthAdjust="spacingAndGlyphs" text-anchor="middle">PEO-ASPE-Li</text>
<path d="M 416 635.7 L 427 638.5 Q 431 641 431.5 646 Q 432 650.7 437 650.7 L 445 650.7" fill="none" stroke="#777" stroke-width="0.7"/>
<path d="M 709 629.7 L 719.4 631.6 Q 728 634 729 638 Q 729.7 644.8 735 644.8 L 746.6 644.8" fill="none" stroke="#777" stroke-width="0.7"/>
<polygon points="413.5,633.5 418.5,634.5 415.5,638.0" fill="#555" />
<polygon points="706.5,627.5 711.5,628.5 708.5,632.0" fill="#555" />
<rect x="554.60" y="513.20" width="7.20" height="33.40" fill="#d2145c" />
<rect x="554.60" y="546.30" width="7.20" height="9.60" fill="#d41ec4" />
<rect x="554.60" y="555.60" width="7.20" height="6.90" fill="#8a22d2" />
<rect x="554.60" y="562.20" width="7.20" height="8.10" fill="#2452d2" />
<rect x="554.60" y="570.00" width="7.20" height="8.30" fill="#1a92d6" />
<rect x="554.60" y="578.00" width="7.20" height="7.60" fill="#14b232" />
<rect x="554.60" y="585.30" width="7.20" height="8.40" fill="#92c822" />
<rect x="554.60" y="593.40" width="7.20" height="8.00" fill="#d4a414" />
<rect x="554.60" y="601.10" width="7.20" height="7.60" fill="#e2661a" />
<rect x="554.60" y="608.40" width="7.20" height="41.50" fill="#d20a1a" />
<text x="557.20" y="504.60" font-size="10" fill="#222" text-anchor="middle">1 µm</text>
<text x="544.00" y="664.40" font-size="10" fill="#222">-1 µm</text></svg>
</body></html>
